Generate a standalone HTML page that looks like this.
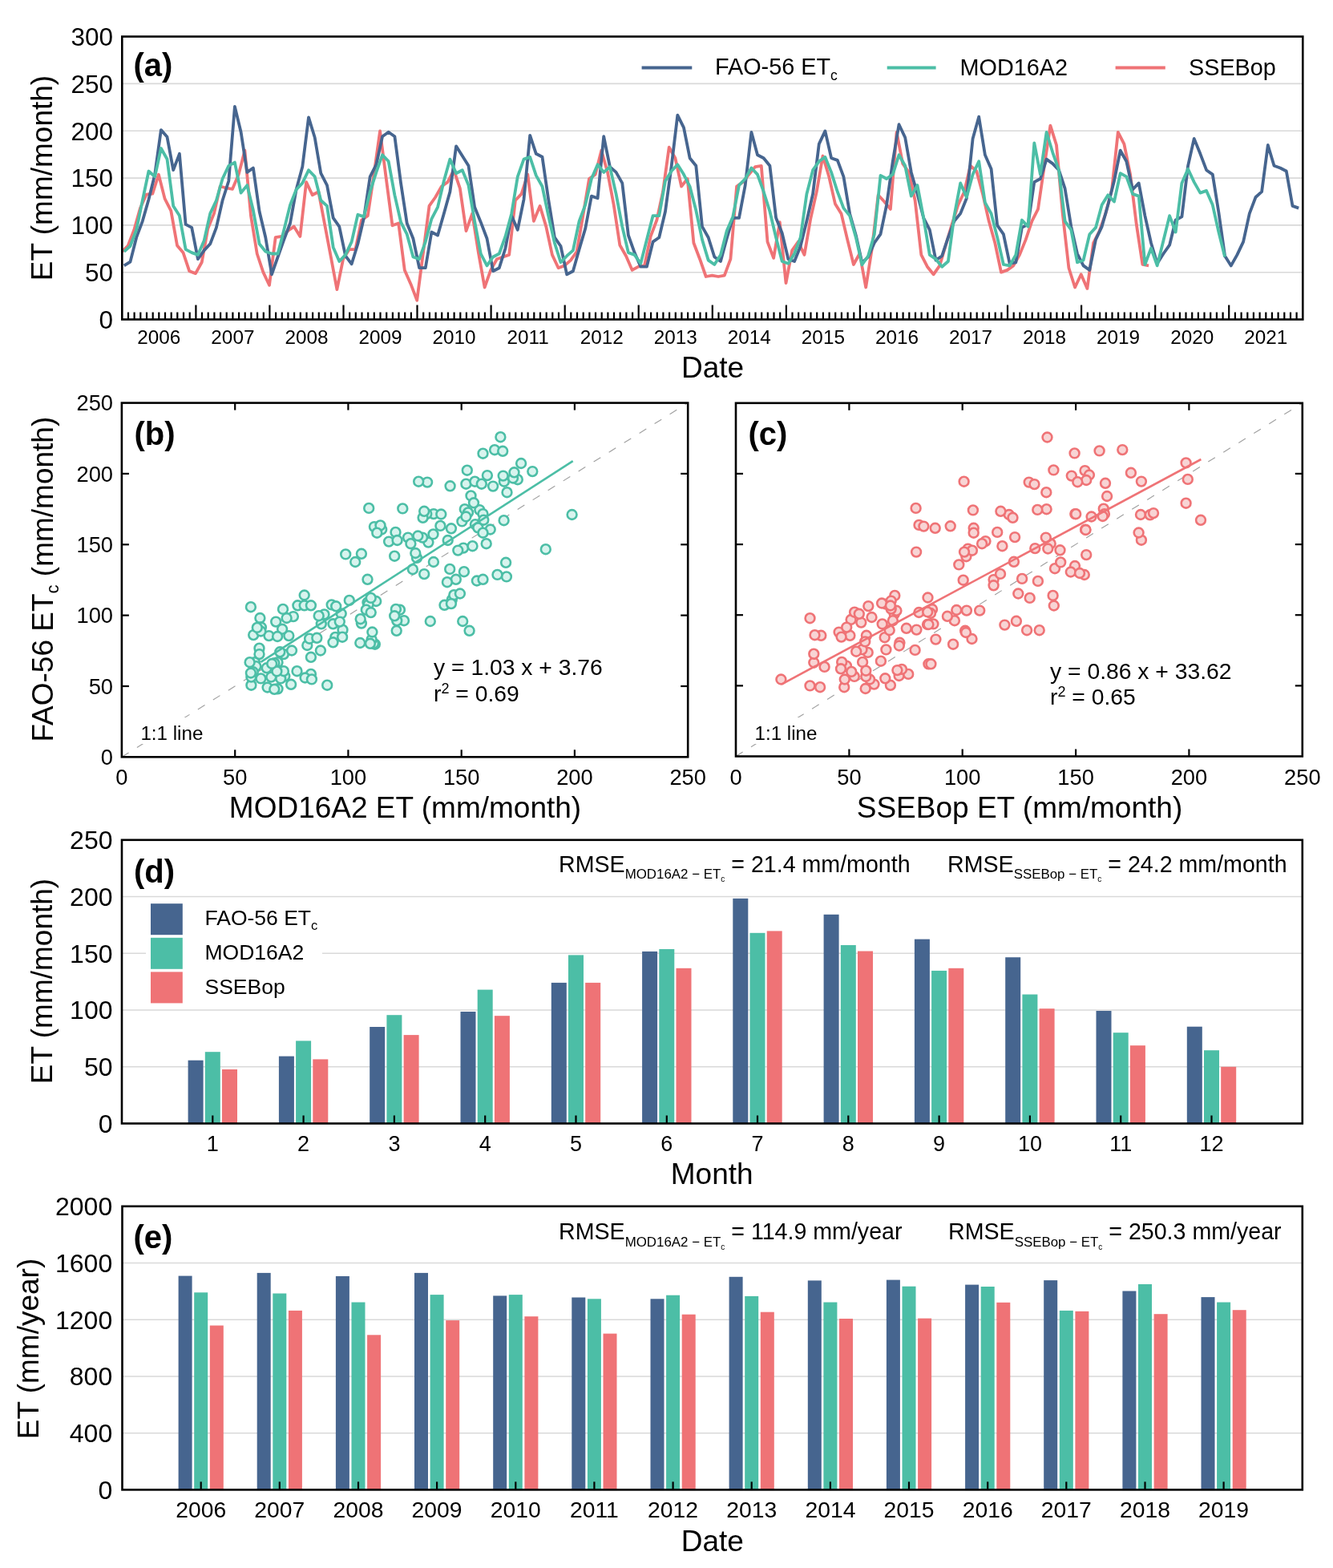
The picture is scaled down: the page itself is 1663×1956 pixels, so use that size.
<!DOCTYPE html><html><head><meta charset="utf-8"><style>html,body{margin:0;padding:0;background:#fff;}svg{display:block;}</style></head><body>
<svg width="1663" height="1956" viewBox="0 0 1663 1956" font-family="'Liberation Sans', Arial, sans-serif" fill="#000">
<rect width="1663" height="1956" fill="#fff"/>
<line x1="152.3" y1="339.7" x2="1625.3" y2="339.7" stroke="#d9d9d9" stroke-width="1.6" />
<line x1="152.3" y1="280.9" x2="1625.3" y2="280.9" stroke="#d9d9d9" stroke-width="1.6" />
<line x1="152.3" y1="222.1" x2="1625.3" y2="222.1" stroke="#d9d9d9" stroke-width="1.6" />
<line x1="152.3" y1="163.2" x2="1625.3" y2="163.2" stroke="#d9d9d9" stroke-width="1.6" />
<line x1="152.3" y1="104.4" x2="1625.3" y2="104.4" stroke="#d9d9d9" stroke-width="1.6" />
<polyline points="152.3,313.8 159.6,306.7 167.3,286.7 174.9,259.7 182.6,242.6 190.3,241.7 197.9,217.7 205.6,247.9 213.3,262.9 221,306.2 228.6,315.3 236.3,338.3 244,341.1 251.7,327.3 259.3,285.3 267,266.4 274.7,232.5 282.3,234.5 290,235.8 297.7,217.6 305.4,187.7 313,269.1 320.7,316.5 328.4,339.6 336,355.8 343.7,296.2 351.4,294.9 359.1,288 366.7,282.6 374.4,294.9 382.1,227.1 389.7,243.3 397.4,239.2 405.1,279.9 412.8,320.5 420.4,361.2 428.1,323.2 435.8,311.1 443.4,311.1 451.1,274.5 458.8,269.1 466.5,217.6 474.1,163.4 481.8,223 489.5,281.3 497.2,278.5 504.8,336.9 512.5,354.4 520.2,374.7 527.8,316.5 535.5,256.9 543.2,246 550.9,232.5 558.5,227.1 566.2,212.2 573.9,235.2 581.5,288 589.2,266.4 596.9,315.1 604.6,358.5 612.2,336.9 619.9,323.2 627.6,320.5 635.2,317.9 642.9,250 650.6,241.9 658.3,217.6 665.9,275.8 673.6,256.9 681.3,282.6 688.9,317.9 696.6,334.2 704.3,331.4 712,324.6 719.6,313.8 727.3,269.1 735,223 742.7,217.6 750.3,187.7 758,214.9 765.7,255.6 773.3,305.7 781,319.2 788.7,336.9 796.4,332.7 804,331.4 811.7,294.9 819.4,274.5 827,239.2 834.7,183.7 842.4,197.2 850.1,232.5 857.7,223 865.4,303 873.1,323.2 880.7,345 888.4,343.6 896.1,345 903.8,343.6 911.4,323.2 919.1,232.5 926.8,227.1 934.4,217.6 942.1,208.1 949.8,206.8 957.5,301.6 965.1,321.9 972.8,277.2 980.5,353.1 988.2,312.4 995.8,301.6 1003.5,317.9 1011.2,273.1 1018.8,239.2 1026.5,194.5 1034.2,220.3 1041.9,254.2 1049.5,266.4 1057.2,298.9 1064.9,330 1072.5,316.2 1080.2,358.5 1087.9,309.7 1095.6,243.3 1103.2,251.5 1110.9,260.9 1118.6,164.8 1126.2,204.1 1133.9,214.9 1141.6,250 1149.3,317.9 1156.9,332.7 1164.6,342.3 1172.3,331.4 1179.9,305.7 1187.6,279.9 1195.3,255.6 1203,239.2 1210.6,206.8 1218.3,213.5 1226,241.9 1233.7,275.8 1241.3,303 1249,339.6 1256.7,336.9 1264.3,331.4 1272,317.9 1279.7,298.9 1287.4,275.8 1295,260.9 1302.7,208.1 1310.4,156.6 1318,181 1325.7,266.4 1333.4,334.2 1341.1,358.5 1348.7,342.3 1356.4,359.9 1364.1,303 1371.7,288 1379.4,266.4 1387.1,236.5 1394.8,164.8 1402.4,179.6 1410.1,217.6 1417.8,279.9 1425.4,330 1433.1,331.4" fill="none" stroke="#ef7376" stroke-width="3.8" stroke-linejoin="round"/>
<polyline points="154.8,331.4 162.5,326.6 170.2,296.2 177.8,275.8 185.5,248.8 193.2,217.6 200.9,162.1 208.5,170.8 216.2,212.2 223.9,191.8 231.6,279.9 239.2,283.9 246.9,323.2 254.6,312.4 262.2,304.3 269.9,283.9 277.6,250 285.3,225.7 292.9,132.9 300.6,164.8 308.3,214.9 315.9,209.5 323.6,263.7 331.3,296.2 339,342.3 346.6,320.5 354.3,298.9 362,278.5 369.6,236.5 377.3,208.1 385,146.4 392.7,171.5 400.3,216.2 408,231.1 415.7,271.8 423.3,282.6 431,319.2 438.7,329.3 446.4,304.3 454,271.8 461.7,220.3 469.4,205.3 477.1,170.2 484.7,164.8 492.4,170.2 500.1,228.4 507.7,278.5 515.4,297.5 523.1,334.2 530.8,334.2 538.4,289.5 546.1,293.5 553.8,266.4 561.4,239.2 569.1,182.3 576.8,194.5 584.5,206.8 592.1,258.3 599.8,277.2 607.5,297.5 615.1,338.2 622.8,334.2 630.5,309.7 638.2,269.1 645.8,286.7 653.5,248.8 661.2,168.8 668.8,191.8 676.5,195.8 684.2,248.8 691.9,296.2 699.5,307 707.2,342.3 714.9,338.2 722.6,311.1 730.2,285.3 737.9,244.6 745.6,247.3 753.2,170.2 760.9,208.1 768.6,214.9 776.3,228.4 783.9,293.5 791.6,315.1 799.3,332.7 806.9,332.7 814.6,301.6 822.3,296.2 830,263.7 837.6,208.1 845.3,143.7 853,159.2 860.6,197.2 868.3,206.8 876,282.6 883.7,296.2 891.3,320.5 899,326 906.7,297.6 914.3,271.8 922,271.8 929.7,231.1 937.4,164.8 945,193.2 952.7,197.2 960.4,206.8 968.1,271.8 975.7,290.7 983.4,323.2 991.1,326 998.7,307 1006.4,275.8 1014.1,241.9 1021.8,179.6 1029.4,163.4 1037.1,197.2 1044.8,199.9 1052.4,220.3 1060.1,266.4 1067.8,293.5 1075.5,327.9 1083.1,320.5 1090.8,303 1098.5,292.2 1106.1,255.6 1113.8,201.3 1121.5,155.2 1129.2,171.5 1136.8,214.9 1144.5,241.9 1152.2,271.8 1159.8,286.7 1167.5,324.6 1175.2,319.2 1182.9,296.2 1190.5,275.8 1198.2,266.4 1205.9,247.3 1213.6,172.9 1221.2,145.7 1228.9,193.2 1236.6,210.8 1244.2,281.2 1251.9,292.2 1259.6,328.7 1267.3,327.3 1274.9,283.9 1282.6,279.9 1290.3,227.1 1297.9,223 1305.6,198.6 1313.3,204.1 1321,212.2 1328.6,235.2 1336.3,282.6 1344,316.5 1351.6,331.4 1359.3,336.9 1367,298.9 1374.7,282.6 1382.3,255.6 1390,225.7 1397.7,187.7 1405.3,201.3 1413,236.5 1420.7,228.4 1428.4,269.1 1436,303 1443.7,328.7 1451.4,316.5 1459.1,305.7 1466.7,274.5 1474.4,270.4 1482.1,206.8 1489.7,172.9 1497.4,191.8 1505.1,212.2 1512.8,217.6 1520.4,265 1528.1,319.2 1535.8,331.4 1543.4,317.9 1551.1,301.6 1558.8,266.4 1566.5,246 1574.1,239.2 1581.8,181 1589.5,206.8 1597.1,209.5 1604.8,213.5 1612.5,256.9 1620.2,259.6" fill="none" stroke="#46658f" stroke-width="3.8" stroke-linejoin="round"/>
<polyline points="154.8,313.8 162.5,307 170.2,286.7 177.8,250 185.5,213.5 193.2,220.3 200.9,185 208.5,198.5 216.2,256.9 223.9,269.1 231.6,311.1 239.2,315.1 246.9,317.9 254.6,300.3 262.2,266.4 269.9,250 277.6,223 285.3,206.8 292.9,202.6 300.6,240.6 308.3,231.1 315.9,262.3 323.6,304.3 331.3,313.8 339,316.5 346.6,316.5 354.3,286.7 362,255.6 369.6,236.5 377.3,228.4 385,212.2 392.7,220.3 400.3,250 408,256.9 415.7,308.4 423.3,326 431,317.9 438.7,301.6 446.4,267.7 454,270.4 461.7,239.2 469.4,214.9 477.1,193.2 484.7,201.3 492.4,243.3 500.1,277.2 507.7,292.2 515.4,320.5 523.1,323.2 530.8,301.6 538.4,273.1 546.1,258.3 553.8,225.7 561.4,198.6 569.1,216.2 576.8,212.2 584.5,231.1 592.1,275.8 599.8,316.5 607.5,331.4 615.1,320.5 622.8,316.5 630.5,294.9 638.2,266.4 645.8,220.3 653.5,198.6 661.2,195.9 668.8,218.9 676.5,232.5 684.2,269.1 691.9,303 699.5,327.3 707.2,319.2 714.9,312.4 722.6,275.8 730.2,255.6 737.9,223 745.6,205.3 753.2,214.9 760.9,208.1 768.6,241.9 776.3,282.6 783.9,315.1 791.6,317.9 799.3,328.7 806.9,298.9 814.6,269.1 822.3,269.1 830,225.7 837.6,213.5 845.3,205.3 853,217.6 860.6,232.5 868.3,262.3 876,298.9 883.7,324.6 891.3,330 899,317.9 906.7,288 914.3,270.4 922,231.1 929.7,223 937.4,209.5 945,217.6 952.7,239.2 960.4,263.7 968.1,296.2 975.7,326 983.4,328.7 991.1,316.5 998.7,296.2 1006.4,241.9 1014.1,212.2 1021.8,201.3 1029.4,195.9 1037.1,214.9 1044.8,239.2 1052.4,259.6 1060.1,269.1 1067.8,296.2 1075.5,330.3 1083.1,319.2 1090.8,292.2 1098.5,218.9 1106.1,223 1113.8,217.6 1121.5,193.2 1129.2,206.8 1136.8,244.6 1144.5,231.1 1152.2,271.8 1159.8,317.9 1167.5,323.2 1175.2,332.7 1182.9,326 1190.5,269.1 1198.2,228.4 1205.9,246 1213.6,217.6 1221.2,201.3 1228.9,252.8 1236.6,266.4 1244.2,296.2 1251.9,330 1259.6,331.4 1267.3,317.9 1274.9,274.5 1282.6,282.6 1290.3,178.3 1297.9,217.6 1305.6,164.8 1313.3,190.3 1321,212.2 1328.6,275.8 1336.3,286.7 1344,327.3 1351.6,324.6 1359.3,292.2 1367,283.9 1374.7,255.6 1382.3,243.3 1390,251.5 1397.7,216.2 1405.3,220.3 1413,241.9 1420.7,244.6 1428.4,330 1436,309.7 1443.7,331.4 1451.4,300.3 1459.1,269.1 1466.7,289.5 1474.4,228.4 1482.1,210.8 1489.7,227.1 1497.4,240.6 1505.1,237.9 1512.8,255.6 1520.4,289.5 1528.1,320.5" fill="none" stroke="#4cbea6" stroke-width="3.8" stroke-linejoin="round"/>
<line x1="160" y1="398.5" x2="160" y2="389.5" stroke="#000" stroke-width="2.2" />
<line x1="167.6" y1="398.5" x2="167.6" y2="389.5" stroke="#000" stroke-width="2.2" />
<line x1="175.3" y1="398.5" x2="175.3" y2="389.5" stroke="#000" stroke-width="2.2" />
<line x1="183" y1="398.5" x2="183" y2="389.5" stroke="#000" stroke-width="2.2" />
<line x1="190.7" y1="398.5" x2="190.7" y2="389.5" stroke="#000" stroke-width="2.2" />
<line x1="198.3" y1="398.5" x2="198.3" y2="389.5" stroke="#000" stroke-width="2.2" />
<line x1="206" y1="398.5" x2="206" y2="389.5" stroke="#000" stroke-width="2.2" />
<line x1="213.7" y1="398.5" x2="213.7" y2="389.5" stroke="#000" stroke-width="2.2" />
<line x1="221.3" y1="398.5" x2="221.3" y2="389.5" stroke="#000" stroke-width="2.2" />
<line x1="229" y1="398.5" x2="229" y2="389.5" stroke="#000" stroke-width="2.2" />
<line x1="236.7" y1="398.5" x2="236.7" y2="389.5" stroke="#000" stroke-width="2.2" />
<line x1="244.4" y1="398.5" x2="244.4" y2="380.5" stroke="#000" stroke-width="2.2" />
<line x1="252" y1="398.5" x2="252" y2="389.5" stroke="#000" stroke-width="2.2" />
<line x1="259.7" y1="398.5" x2="259.7" y2="389.5" stroke="#000" stroke-width="2.2" />
<line x1="267.4" y1="398.5" x2="267.4" y2="389.5" stroke="#000" stroke-width="2.2" />
<line x1="275.1" y1="398.5" x2="275.1" y2="389.5" stroke="#000" stroke-width="2.2" />
<line x1="282.7" y1="398.5" x2="282.7" y2="389.5" stroke="#000" stroke-width="2.2" />
<line x1="290.4" y1="398.5" x2="290.4" y2="389.5" stroke="#000" stroke-width="2.2" />
<line x1="298.1" y1="398.5" x2="298.1" y2="389.5" stroke="#000" stroke-width="2.2" />
<line x1="305.7" y1="398.5" x2="305.7" y2="389.5" stroke="#000" stroke-width="2.2" />
<line x1="313.4" y1="398.5" x2="313.4" y2="389.5" stroke="#000" stroke-width="2.2" />
<line x1="321.1" y1="398.5" x2="321.1" y2="389.5" stroke="#000" stroke-width="2.2" />
<line x1="328.8" y1="398.5" x2="328.8" y2="389.5" stroke="#000" stroke-width="2.2" />
<line x1="336.4" y1="398.5" x2="336.4" y2="380.5" stroke="#000" stroke-width="2.2" />
<line x1="344.1" y1="398.5" x2="344.1" y2="389.5" stroke="#000" stroke-width="2.2" />
<line x1="351.8" y1="398.5" x2="351.8" y2="389.5" stroke="#000" stroke-width="2.2" />
<line x1="359.4" y1="398.5" x2="359.4" y2="389.5" stroke="#000" stroke-width="2.2" />
<line x1="367.1" y1="398.5" x2="367.1" y2="389.5" stroke="#000" stroke-width="2.2" />
<line x1="374.8" y1="398.5" x2="374.8" y2="389.5" stroke="#000" stroke-width="2.2" />
<line x1="382.5" y1="398.5" x2="382.5" y2="389.5" stroke="#000" stroke-width="2.2" />
<line x1="390.1" y1="398.5" x2="390.1" y2="389.5" stroke="#000" stroke-width="2.2" />
<line x1="397.8" y1="398.5" x2="397.8" y2="389.5" stroke="#000" stroke-width="2.2" />
<line x1="405.5" y1="398.5" x2="405.5" y2="389.5" stroke="#000" stroke-width="2.2" />
<line x1="413.1" y1="398.5" x2="413.1" y2="389.5" stroke="#000" stroke-width="2.2" />
<line x1="420.8" y1="398.5" x2="420.8" y2="389.5" stroke="#000" stroke-width="2.2" />
<line x1="428.5" y1="398.5" x2="428.5" y2="380.5" stroke="#000" stroke-width="2.2" />
<line x1="436.2" y1="398.5" x2="436.2" y2="389.5" stroke="#000" stroke-width="2.2" />
<line x1="443.8" y1="398.5" x2="443.8" y2="389.5" stroke="#000" stroke-width="2.2" />
<line x1="451.5" y1="398.5" x2="451.5" y2="389.5" stroke="#000" stroke-width="2.2" />
<line x1="459.2" y1="398.5" x2="459.2" y2="389.5" stroke="#000" stroke-width="2.2" />
<line x1="466.8" y1="398.5" x2="466.8" y2="389.5" stroke="#000" stroke-width="2.2" />
<line x1="474.5" y1="398.5" x2="474.5" y2="389.5" stroke="#000" stroke-width="2.2" />
<line x1="482.2" y1="398.5" x2="482.2" y2="389.5" stroke="#000" stroke-width="2.2" />
<line x1="489.9" y1="398.5" x2="489.9" y2="389.5" stroke="#000" stroke-width="2.2" />
<line x1="497.5" y1="398.5" x2="497.5" y2="389.5" stroke="#000" stroke-width="2.2" />
<line x1="505.2" y1="398.5" x2="505.2" y2="389.5" stroke="#000" stroke-width="2.2" />
<line x1="512.9" y1="398.5" x2="512.9" y2="389.5" stroke="#000" stroke-width="2.2" />
<line x1="520.5" y1="398.5" x2="520.5" y2="380.5" stroke="#000" stroke-width="2.2" />
<line x1="528.2" y1="398.5" x2="528.2" y2="389.5" stroke="#000" stroke-width="2.2" />
<line x1="535.9" y1="398.5" x2="535.9" y2="389.5" stroke="#000" stroke-width="2.2" />
<line x1="543.6" y1="398.5" x2="543.6" y2="389.5" stroke="#000" stroke-width="2.2" />
<line x1="551.2" y1="398.5" x2="551.2" y2="389.5" stroke="#000" stroke-width="2.2" />
<line x1="558.9" y1="398.5" x2="558.9" y2="389.5" stroke="#000" stroke-width="2.2" />
<line x1="566.6" y1="398.5" x2="566.6" y2="389.5" stroke="#000" stroke-width="2.2" />
<line x1="574.3" y1="398.5" x2="574.3" y2="389.5" stroke="#000" stroke-width="2.2" />
<line x1="581.9" y1="398.5" x2="581.9" y2="389.5" stroke="#000" stroke-width="2.2" />
<line x1="589.6" y1="398.5" x2="589.6" y2="389.5" stroke="#000" stroke-width="2.2" />
<line x1="597.3" y1="398.5" x2="597.3" y2="389.5" stroke="#000" stroke-width="2.2" />
<line x1="604.9" y1="398.5" x2="604.9" y2="389.5" stroke="#000" stroke-width="2.2" />
<line x1="612.6" y1="398.5" x2="612.6" y2="380.5" stroke="#000" stroke-width="2.2" />
<line x1="620.3" y1="398.5" x2="620.3" y2="389.5" stroke="#000" stroke-width="2.2" />
<line x1="628" y1="398.5" x2="628" y2="389.5" stroke="#000" stroke-width="2.2" />
<line x1="635.6" y1="398.5" x2="635.6" y2="389.5" stroke="#000" stroke-width="2.2" />
<line x1="643.3" y1="398.5" x2="643.3" y2="389.5" stroke="#000" stroke-width="2.2" />
<line x1="651" y1="398.5" x2="651" y2="389.5" stroke="#000" stroke-width="2.2" />
<line x1="658.6" y1="398.5" x2="658.6" y2="389.5" stroke="#000" stroke-width="2.2" />
<line x1="666.3" y1="398.5" x2="666.3" y2="389.5" stroke="#000" stroke-width="2.2" />
<line x1="674" y1="398.5" x2="674" y2="389.5" stroke="#000" stroke-width="2.2" />
<line x1="681.7" y1="398.5" x2="681.7" y2="389.5" stroke="#000" stroke-width="2.2" />
<line x1="689.3" y1="398.5" x2="689.3" y2="389.5" stroke="#000" stroke-width="2.2" />
<line x1="697" y1="398.5" x2="697" y2="389.5" stroke="#000" stroke-width="2.2" />
<line x1="704.7" y1="398.5" x2="704.7" y2="380.5" stroke="#000" stroke-width="2.2" />
<line x1="712.3" y1="398.5" x2="712.3" y2="389.5" stroke="#000" stroke-width="2.2" />
<line x1="720" y1="398.5" x2="720" y2="389.5" stroke="#000" stroke-width="2.2" />
<line x1="727.7" y1="398.5" x2="727.7" y2="389.5" stroke="#000" stroke-width="2.2" />
<line x1="735.4" y1="398.5" x2="735.4" y2="389.5" stroke="#000" stroke-width="2.2" />
<line x1="743" y1="398.5" x2="743" y2="389.5" stroke="#000" stroke-width="2.2" />
<line x1="750.7" y1="398.5" x2="750.7" y2="389.5" stroke="#000" stroke-width="2.2" />
<line x1="758.4" y1="398.5" x2="758.4" y2="389.5" stroke="#000" stroke-width="2.2" />
<line x1="766" y1="398.5" x2="766" y2="389.5" stroke="#000" stroke-width="2.2" />
<line x1="773.7" y1="398.5" x2="773.7" y2="389.5" stroke="#000" stroke-width="2.2" />
<line x1="781.4" y1="398.5" x2="781.4" y2="389.5" stroke="#000" stroke-width="2.2" />
<line x1="789.1" y1="398.5" x2="789.1" y2="389.5" stroke="#000" stroke-width="2.2" />
<line x1="796.7" y1="398.5" x2="796.7" y2="380.5" stroke="#000" stroke-width="2.2" />
<line x1="804.4" y1="398.5" x2="804.4" y2="389.5" stroke="#000" stroke-width="2.2" />
<line x1="812.1" y1="398.5" x2="812.1" y2="389.5" stroke="#000" stroke-width="2.2" />
<line x1="819.8" y1="398.5" x2="819.8" y2="389.5" stroke="#000" stroke-width="2.2" />
<line x1="827.4" y1="398.5" x2="827.4" y2="389.5" stroke="#000" stroke-width="2.2" />
<line x1="835.1" y1="398.5" x2="835.1" y2="389.5" stroke="#000" stroke-width="2.2" />
<line x1="842.8" y1="398.5" x2="842.8" y2="389.5" stroke="#000" stroke-width="2.2" />
<line x1="850.4" y1="398.5" x2="850.4" y2="389.5" stroke="#000" stroke-width="2.2" />
<line x1="858.1" y1="398.5" x2="858.1" y2="389.5" stroke="#000" stroke-width="2.2" />
<line x1="865.8" y1="398.5" x2="865.8" y2="389.5" stroke="#000" stroke-width="2.2" />
<line x1="873.5" y1="398.5" x2="873.5" y2="389.5" stroke="#000" stroke-width="2.2" />
<line x1="881.1" y1="398.5" x2="881.1" y2="389.5" stroke="#000" stroke-width="2.2" />
<line x1="888.8" y1="398.5" x2="888.8" y2="380.5" stroke="#000" stroke-width="2.2" />
<line x1="896.5" y1="398.5" x2="896.5" y2="389.5" stroke="#000" stroke-width="2.2" />
<line x1="904.1" y1="398.5" x2="904.1" y2="389.5" stroke="#000" stroke-width="2.2" />
<line x1="911.8" y1="398.5" x2="911.8" y2="389.5" stroke="#000" stroke-width="2.2" />
<line x1="919.5" y1="398.5" x2="919.5" y2="389.5" stroke="#000" stroke-width="2.2" />
<line x1="927.2" y1="398.5" x2="927.2" y2="389.5" stroke="#000" stroke-width="2.2" />
<line x1="934.8" y1="398.5" x2="934.8" y2="389.5" stroke="#000" stroke-width="2.2" />
<line x1="942.5" y1="398.5" x2="942.5" y2="389.5" stroke="#000" stroke-width="2.2" />
<line x1="950.2" y1="398.5" x2="950.2" y2="389.5" stroke="#000" stroke-width="2.2" />
<line x1="957.8" y1="398.5" x2="957.8" y2="389.5" stroke="#000" stroke-width="2.2" />
<line x1="965.5" y1="398.5" x2="965.5" y2="389.5" stroke="#000" stroke-width="2.2" />
<line x1="973.2" y1="398.5" x2="973.2" y2="389.5" stroke="#000" stroke-width="2.2" />
<line x1="980.9" y1="398.5" x2="980.9" y2="380.5" stroke="#000" stroke-width="2.2" />
<line x1="988.5" y1="398.5" x2="988.5" y2="389.5" stroke="#000" stroke-width="2.2" />
<line x1="996.2" y1="398.5" x2="996.2" y2="389.5" stroke="#000" stroke-width="2.2" />
<line x1="1003.9" y1="398.5" x2="1003.9" y2="389.5" stroke="#000" stroke-width="2.2" />
<line x1="1011.5" y1="398.5" x2="1011.5" y2="389.5" stroke="#000" stroke-width="2.2" />
<line x1="1019.2" y1="398.5" x2="1019.2" y2="389.5" stroke="#000" stroke-width="2.2" />
<line x1="1026.9" y1="398.5" x2="1026.9" y2="389.5" stroke="#000" stroke-width="2.2" />
<line x1="1034.6" y1="398.5" x2="1034.6" y2="389.5" stroke="#000" stroke-width="2.2" />
<line x1="1042.2" y1="398.5" x2="1042.2" y2="389.5" stroke="#000" stroke-width="2.2" />
<line x1="1049.9" y1="398.5" x2="1049.9" y2="389.5" stroke="#000" stroke-width="2.2" />
<line x1="1057.6" y1="398.5" x2="1057.6" y2="389.5" stroke="#000" stroke-width="2.2" />
<line x1="1065.3" y1="398.5" x2="1065.3" y2="389.5" stroke="#000" stroke-width="2.2" />
<line x1="1072.9" y1="398.5" x2="1072.9" y2="380.5" stroke="#000" stroke-width="2.2" />
<line x1="1080.6" y1="398.5" x2="1080.6" y2="389.5" stroke="#000" stroke-width="2.2" />
<line x1="1088.3" y1="398.5" x2="1088.3" y2="389.5" stroke="#000" stroke-width="2.2" />
<line x1="1095.9" y1="398.5" x2="1095.9" y2="389.5" stroke="#000" stroke-width="2.2" />
<line x1="1103.6" y1="398.5" x2="1103.6" y2="389.5" stroke="#000" stroke-width="2.2" />
<line x1="1111.3" y1="398.5" x2="1111.3" y2="389.5" stroke="#000" stroke-width="2.2" />
<line x1="1119" y1="398.5" x2="1119" y2="389.5" stroke="#000" stroke-width="2.2" />
<line x1="1126.6" y1="398.5" x2="1126.6" y2="389.5" stroke="#000" stroke-width="2.2" />
<line x1="1134.3" y1="398.5" x2="1134.3" y2="389.5" stroke="#000" stroke-width="2.2" />
<line x1="1142" y1="398.5" x2="1142" y2="389.5" stroke="#000" stroke-width="2.2" />
<line x1="1149.6" y1="398.5" x2="1149.6" y2="389.5" stroke="#000" stroke-width="2.2" />
<line x1="1157.3" y1="398.5" x2="1157.3" y2="389.5" stroke="#000" stroke-width="2.2" />
<line x1="1165" y1="398.5" x2="1165" y2="380.5" stroke="#000" stroke-width="2.2" />
<line x1="1172.7" y1="398.5" x2="1172.7" y2="389.5" stroke="#000" stroke-width="2.2" />
<line x1="1180.3" y1="398.5" x2="1180.3" y2="389.5" stroke="#000" stroke-width="2.2" />
<line x1="1188" y1="398.5" x2="1188" y2="389.5" stroke="#000" stroke-width="2.2" />
<line x1="1195.7" y1="398.5" x2="1195.7" y2="389.5" stroke="#000" stroke-width="2.2" />
<line x1="1203.3" y1="398.5" x2="1203.3" y2="389.5" stroke="#000" stroke-width="2.2" />
<line x1="1211" y1="398.5" x2="1211" y2="389.5" stroke="#000" stroke-width="2.2" />
<line x1="1218.7" y1="398.5" x2="1218.7" y2="389.5" stroke="#000" stroke-width="2.2" />
<line x1="1226.4" y1="398.5" x2="1226.4" y2="389.5" stroke="#000" stroke-width="2.2" />
<line x1="1234" y1="398.5" x2="1234" y2="389.5" stroke="#000" stroke-width="2.2" />
<line x1="1241.7" y1="398.5" x2="1241.7" y2="389.5" stroke="#000" stroke-width="2.2" />
<line x1="1249.4" y1="398.5" x2="1249.4" y2="389.5" stroke="#000" stroke-width="2.2" />
<line x1="1257" y1="398.5" x2="1257" y2="380.5" stroke="#000" stroke-width="2.2" />
<line x1="1264.7" y1="398.5" x2="1264.7" y2="389.5" stroke="#000" stroke-width="2.2" />
<line x1="1272.4" y1="398.5" x2="1272.4" y2="389.5" stroke="#000" stroke-width="2.2" />
<line x1="1280.1" y1="398.5" x2="1280.1" y2="389.5" stroke="#000" stroke-width="2.2" />
<line x1="1287.7" y1="398.5" x2="1287.7" y2="389.5" stroke="#000" stroke-width="2.2" />
<line x1="1295.4" y1="398.5" x2="1295.4" y2="389.5" stroke="#000" stroke-width="2.2" />
<line x1="1303.1" y1="398.5" x2="1303.1" y2="389.5" stroke="#000" stroke-width="2.2" />
<line x1="1310.8" y1="398.5" x2="1310.8" y2="389.5" stroke="#000" stroke-width="2.2" />
<line x1="1318.4" y1="398.5" x2="1318.4" y2="389.5" stroke="#000" stroke-width="2.2" />
<line x1="1326.1" y1="398.5" x2="1326.1" y2="389.5" stroke="#000" stroke-width="2.2" />
<line x1="1333.8" y1="398.5" x2="1333.8" y2="389.5" stroke="#000" stroke-width="2.2" />
<line x1="1341.4" y1="398.5" x2="1341.4" y2="389.5" stroke="#000" stroke-width="2.2" />
<line x1="1349.1" y1="398.5" x2="1349.1" y2="380.5" stroke="#000" stroke-width="2.2" />
<line x1="1356.8" y1="398.5" x2="1356.8" y2="389.5" stroke="#000" stroke-width="2.2" />
<line x1="1364.5" y1="398.5" x2="1364.5" y2="389.5" stroke="#000" stroke-width="2.2" />
<line x1="1372.1" y1="398.5" x2="1372.1" y2="389.5" stroke="#000" stroke-width="2.2" />
<line x1="1379.8" y1="398.5" x2="1379.8" y2="389.5" stroke="#000" stroke-width="2.2" />
<line x1="1387.5" y1="398.5" x2="1387.5" y2="389.5" stroke="#000" stroke-width="2.2" />
<line x1="1395.1" y1="398.5" x2="1395.1" y2="389.5" stroke="#000" stroke-width="2.2" />
<line x1="1402.8" y1="398.5" x2="1402.8" y2="389.5" stroke="#000" stroke-width="2.2" />
<line x1="1410.5" y1="398.5" x2="1410.5" y2="389.5" stroke="#000" stroke-width="2.2" />
<line x1="1418.2" y1="398.5" x2="1418.2" y2="389.5" stroke="#000" stroke-width="2.2" />
<line x1="1425.8" y1="398.5" x2="1425.8" y2="389.5" stroke="#000" stroke-width="2.2" />
<line x1="1433.5" y1="398.5" x2="1433.5" y2="389.5" stroke="#000" stroke-width="2.2" />
<line x1="1441.2" y1="398.5" x2="1441.2" y2="380.5" stroke="#000" stroke-width="2.2" />
<line x1="1448.8" y1="398.5" x2="1448.8" y2="389.5" stroke="#000" stroke-width="2.2" />
<line x1="1456.5" y1="398.5" x2="1456.5" y2="389.5" stroke="#000" stroke-width="2.2" />
<line x1="1464.2" y1="398.5" x2="1464.2" y2="389.5" stroke="#000" stroke-width="2.2" />
<line x1="1471.9" y1="398.5" x2="1471.9" y2="389.5" stroke="#000" stroke-width="2.2" />
<line x1="1479.5" y1="398.5" x2="1479.5" y2="389.5" stroke="#000" stroke-width="2.2" />
<line x1="1487.2" y1="398.5" x2="1487.2" y2="389.5" stroke="#000" stroke-width="2.2" />
<line x1="1494.9" y1="398.5" x2="1494.9" y2="389.5" stroke="#000" stroke-width="2.2" />
<line x1="1502.5" y1="398.5" x2="1502.5" y2="389.5" stroke="#000" stroke-width="2.2" />
<line x1="1510.2" y1="398.5" x2="1510.2" y2="389.5" stroke="#000" stroke-width="2.2" />
<line x1="1517.9" y1="398.5" x2="1517.9" y2="389.5" stroke="#000" stroke-width="2.2" />
<line x1="1525.6" y1="398.5" x2="1525.6" y2="389.5" stroke="#000" stroke-width="2.2" />
<line x1="1533.2" y1="398.5" x2="1533.2" y2="380.5" stroke="#000" stroke-width="2.2" />
<line x1="1540.9" y1="398.5" x2="1540.9" y2="389.5" stroke="#000" stroke-width="2.2" />
<line x1="1548.6" y1="398.5" x2="1548.6" y2="389.5" stroke="#000" stroke-width="2.2" />
<line x1="1556.3" y1="398.5" x2="1556.3" y2="389.5" stroke="#000" stroke-width="2.2" />
<line x1="1563.9" y1="398.5" x2="1563.9" y2="389.5" stroke="#000" stroke-width="2.2" />
<line x1="1571.6" y1="398.5" x2="1571.6" y2="389.5" stroke="#000" stroke-width="2.2" />
<line x1="1579.3" y1="398.5" x2="1579.3" y2="389.5" stroke="#000" stroke-width="2.2" />
<line x1="1586.9" y1="398.5" x2="1586.9" y2="389.5" stroke="#000" stroke-width="2.2" />
<line x1="1594.6" y1="398.5" x2="1594.6" y2="389.5" stroke="#000" stroke-width="2.2" />
<line x1="1602.3" y1="398.5" x2="1602.3" y2="389.5" stroke="#000" stroke-width="2.2" />
<line x1="1610" y1="398.5" x2="1610" y2="389.5" stroke="#000" stroke-width="2.2" />
<line x1="1617.6" y1="398.5" x2="1617.6" y2="389.5" stroke="#000" stroke-width="2.2" />
<rect x="152.3" y="45.6" width="1473" height="352.9" fill="none" stroke="#000" stroke-width="2.6"/>
<text x="141" y="409.8" font-size="31.5" text-anchor="end" >0</text>
<text x="141" y="351" font-size="31.5" text-anchor="end" >50</text>
<text x="141" y="292.2" font-size="31.5" text-anchor="end" >100</text>
<text x="141" y="233.4" font-size="31.5" text-anchor="end" >150</text>
<text x="141" y="174.5" font-size="31.5" text-anchor="end" >200</text>
<text x="141" y="115.7" font-size="31.5" text-anchor="end" >250</text>
<text x="141" y="56.9" font-size="31.5" text-anchor="end" >300</text>
<text x="198.3" y="429.3" font-size="24.3" text-anchor="middle" >2006</text>
<text x="290.4" y="429.3" font-size="24.3" text-anchor="middle" >2007</text>
<text x="382.5" y="429.3" font-size="24.3" text-anchor="middle" >2008</text>
<text x="474.5" y="429.3" font-size="24.3" text-anchor="middle" >2009</text>
<text x="566.6" y="429.3" font-size="24.3" text-anchor="middle" >2010</text>
<text x="658.6" y="429.3" font-size="24.3" text-anchor="middle" >2011</text>
<text x="750.7" y="429.3" font-size="24.3" text-anchor="middle" >2012</text>
<text x="842.8" y="429.3" font-size="24.3" text-anchor="middle" >2013</text>
<text x="934.8" y="429.3" font-size="24.3" text-anchor="middle" >2014</text>
<text x="1026.9" y="429.3" font-size="24.3" text-anchor="middle" >2015</text>
<text x="1119" y="429.3" font-size="24.3" text-anchor="middle" >2016</text>
<text x="1211" y="429.3" font-size="24.3" text-anchor="middle" >2017</text>
<text x="1303.1" y="429.3" font-size="24.3" text-anchor="middle" >2018</text>
<text x="1395.1" y="429.3" font-size="24.3" text-anchor="middle" >2019</text>
<text x="1487.2" y="429.3" font-size="24.3" text-anchor="middle" >2020</text>
<text x="1579.3" y="429.3" font-size="24.3" text-anchor="middle" >2021</text>
<text x="889" y="470.5" font-size="37" text-anchor="middle" >Date</text>
<text x="0" y="0" font-size="37" text-anchor="middle" transform="translate(65,222) rotate(-90)">ET (mm/month)</text>
<text x="166.5" y="95" font-size="40" text-anchor="start" font-weight="bold" >(a)</text>
<line x1="800.6" y1="84.5" x2="863.3" y2="84.5" stroke="#46658f" stroke-width="4" />
<text x="892" y="93" font-size="28.8">FAO-56 ET<tspan font-size="17.5" dy="6.5">c</tspan></text>
<line x1="1106.7" y1="84.5" x2="1167.6" y2="84.5" stroke="#4cbea6" stroke-width="4" />
<text x="1197.5" y="93.5" font-size="28.8" text-anchor="start" >MOD16A2</text>
<line x1="1391.6" y1="84.5" x2="1453.8" y2="84.5" stroke="#ef7376" stroke-width="4" />
<text x="1483" y="93.5" font-size="28.8" text-anchor="start" >SSEBop</text>
<line x1="151.9" y1="944.3" x2="858.2" y2="502.6" stroke="#a0a0a0" stroke-width="1.15" stroke-dasharray="10.2 12.2"/>
<circle cx="355.3" cy="843.6" r="5.9" fill="#d8f4ee" stroke="#4cbea6" stroke-width="2.6"/>
<circle cx="370.5" cy="837.2" r="5.9" fill="#d8f4ee" stroke="#4cbea6" stroke-width="2.6"/>
<circle cx="427.5" cy="785.7" r="5.9" fill="#d8f4ee" stroke="#4cbea6" stroke-width="2.6"/>
<circle cx="498.9" cy="760.7" r="5.9" fill="#d8f4ee" stroke="#4cbea6" stroke-width="2.6"/>
<circle cx="594.9" cy="724.5" r="5.9" fill="#d8f4ee" stroke="#4cbea6" stroke-width="2.6"/>
<circle cx="578.1" cy="683.6" r="5.9" fill="#d8f4ee" stroke="#4cbea6" stroke-width="2.6"/>
<circle cx="664.3" cy="588.1" r="5.9" fill="#d8f4ee" stroke="#4cbea6" stroke-width="2.6"/>
<circle cx="628.9" cy="600.7" r="5.9" fill="#d8f4ee" stroke="#4cbea6" stroke-width="2.6"/>
<circle cx="493.5" cy="663.9" r="5.9" fill="#d8f4ee" stroke="#4cbea6" stroke-width="2.6"/>
<circle cx="460.2" cy="633.9" r="5.9" fill="#d8f4ee" stroke="#4cbea6" stroke-width="2.6"/>
<circle cx="365.9" cy="769.1" r="5.9" fill="#d8f4ee" stroke="#4cbea6" stroke-width="2.6"/>
<circle cx="357.6" cy="771" r="5.9" fill="#d8f4ee" stroke="#4cbea6" stroke-width="2.6"/>
<circle cx="345.4" cy="831.2" r="5.9" fill="#d8f4ee" stroke="#4cbea6" stroke-width="2.6"/>
<circle cx="383.3" cy="805" r="5.9" fill="#d8f4ee" stroke="#4cbea6" stroke-width="2.6"/>
<circle cx="467.8" cy="803.7" r="5.9" fill="#d8f4ee" stroke="#4cbea6" stroke-width="2.6"/>
<circle cx="504" cy="774.2" r="5.9" fill="#d8f4ee" stroke="#4cbea6" stroke-width="2.6"/>
<circle cx="568.8" cy="722.8" r="5.9" fill="#d8f4ee" stroke="#4cbea6" stroke-width="2.6"/>
<circle cx="606.7" cy="678.2" r="5.9" fill="#d8f4ee" stroke="#4cbea6" stroke-width="2.6"/>
<circle cx="624.4" cy="545.2" r="5.9" fill="#d8f4ee" stroke="#4cbea6" stroke-width="2.6"/>
<circle cx="533.1" cy="601.6" r="5.9" fill="#d8f4ee" stroke="#4cbea6" stroke-width="2.6"/>
<circle cx="558.7" cy="674" r="5.9" fill="#d8f4ee" stroke="#4cbea6" stroke-width="2.6"/>
<circle cx="476.2" cy="660.5" r="5.9" fill="#d8f4ee" stroke="#4cbea6" stroke-width="2.6"/>
<circle cx="379.7" cy="742.5" r="5.9" fill="#d8f4ee" stroke="#4cbea6" stroke-width="2.6"/>
<circle cx="360.3" cy="793.1" r="5.9" fill="#d8f4ee" stroke="#4cbea6" stroke-width="2.6"/>
<circle cx="346.5" cy="859.3" r="5.9" fill="#d8f4ee" stroke="#4cbea6" stroke-width="2.6"/>
<circle cx="353.9" cy="816.1" r="5.9" fill="#d8f4ee" stroke="#4cbea6" stroke-width="2.6"/>
<circle cx="418.3" cy="794.9" r="5.9" fill="#d8f4ee" stroke="#4cbea6" stroke-width="2.6"/>
<circle cx="493.9" cy="759.9" r="5.9" fill="#d8f4ee" stroke="#4cbea6" stroke-width="2.6"/>
<circle cx="540.9" cy="701" r="5.9" fill="#d8f4ee" stroke="#4cbea6" stroke-width="2.6"/>
<circle cx="562.9" cy="659.3" r="5.9" fill="#d8f4ee" stroke="#4cbea6" stroke-width="2.6"/>
<circle cx="602.5" cy="565.7" r="5.9" fill="#d8f4ee" stroke="#4cbea6" stroke-width="2.6"/>
<circle cx="581.4" cy="603.7" r="5.9" fill="#d8f4ee" stroke="#4cbea6" stroke-width="2.6"/>
<circle cx="509" cy="670.6" r="5.9" fill="#d8f4ee" stroke="#4cbea6" stroke-width="2.6"/>
<circle cx="492.2" cy="693.7" r="5.9" fill="#d8f4ee" stroke="#4cbea6" stroke-width="2.6"/>
<circle cx="371.4" cy="755.3" r="5.9" fill="#d8f4ee" stroke="#4cbea6" stroke-width="2.6"/>
<circle cx="324.4" cy="771" r="5.9" fill="#d8f4ee" stroke="#4cbea6" stroke-width="2.6"/>
<circle cx="346.5" cy="826.2" r="5.9" fill="#d8f4ee" stroke="#4cbea6" stroke-width="2.6"/>
<circle cx="387.9" cy="840.9" r="5.9" fill="#d8f4ee" stroke="#4cbea6" stroke-width="2.6"/>
<circle cx="466.1" cy="802.8" r="5.9" fill="#d8f4ee" stroke="#4cbea6" stroke-width="2.6"/>
<circle cx="458.5" cy="751.5" r="5.9" fill="#d8f4ee" stroke="#4cbea6" stroke-width="2.6"/>
<circle cx="534.4" cy="676.6" r="5.9" fill="#d8f4ee" stroke="#4cbea6" stroke-width="2.6"/>
<circle cx="592.9" cy="654.2" r="5.9" fill="#d8f4ee" stroke="#4cbea6" stroke-width="2.6"/>
<circle cx="645.8" cy="598.2" r="5.9" fill="#d8f4ee" stroke="#4cbea6" stroke-width="2.6"/>
<circle cx="627.7" cy="593.6" r="5.9" fill="#d8f4ee" stroke="#4cbea6" stroke-width="2.6"/>
<circle cx="522.2" cy="600.7" r="5.9" fill="#d8f4ee" stroke="#4cbea6" stroke-width="2.6"/>
<circle cx="450.9" cy="690.8" r="5.9" fill="#d8f4ee" stroke="#4cbea6" stroke-width="2.6"/>
<circle cx="404.5" cy="766.4" r="5.9" fill="#d8f4ee" stroke="#4cbea6" stroke-width="2.6"/>
<circle cx="335.5" cy="793.1" r="5.9" fill="#d8f4ee" stroke="#4cbea6" stroke-width="2.6"/>
<circle cx="338.3" cy="844.6" r="5.9" fill="#d8f4ee" stroke="#4cbea6" stroke-width="2.6"/>
<circle cx="380.6" cy="845.5" r="5.9" fill="#d8f4ee" stroke="#4cbea6" stroke-width="2.6"/>
<circle cx="450.9" cy="777.6" r="5.9" fill="#d8f4ee" stroke="#4cbea6" stroke-width="2.6"/>
<circle cx="494.7" cy="786.8" r="5.9" fill="#d8f4ee" stroke="#4cbea6" stroke-width="2.6"/>
<circle cx="563.8" cy="748.1" r="5.9" fill="#d8f4ee" stroke="#4cbea6" stroke-width="2.6"/>
<circle cx="631.1" cy="701.8" r="5.9" fill="#d8f4ee" stroke="#4cbea6" stroke-width="2.6"/>
<circle cx="587.5" cy="618.4" r="5.9" fill="#d8f4ee" stroke="#4cbea6" stroke-width="2.6"/>
<circle cx="598.3" cy="636.1" r="5.9" fill="#d8f4ee" stroke="#4cbea6" stroke-width="2.6"/>
<circle cx="549.4" cy="655.9" r="5.9" fill="#d8f4ee" stroke="#4cbea6" stroke-width="2.6"/>
<circle cx="435.8" cy="748.9" r="5.9" fill="#d8f4ee" stroke="#4cbea6" stroke-width="2.6"/>
<circle cx="353" cy="759.9" r="5.9" fill="#d8f4ee" stroke="#4cbea6" stroke-width="2.6"/>
<circle cx="316.2" cy="792.1" r="5.9" fill="#d8f4ee" stroke="#4cbea6" stroke-width="2.6"/>
<circle cx="333.6" cy="857.5" r="5.9" fill="#d8f4ee" stroke="#4cbea6" stroke-width="2.6"/>
<circle cx="350.2" cy="846.4" r="5.9" fill="#d8f4ee" stroke="#4cbea6" stroke-width="2.6"/>
<circle cx="399.9" cy="811.5" r="5.9" fill="#d8f4ee" stroke="#4cbea6" stroke-width="2.6"/>
<circle cx="469.2" cy="750" r="5.9" fill="#d8f4ee" stroke="#4cbea6" stroke-width="2.6"/>
<circle cx="577.2" cy="775" r="5.9" fill="#d8f4ee" stroke="#4cbea6" stroke-width="2.6"/>
<circle cx="631.9" cy="719.4" r="5.9" fill="#d8f4ee" stroke="#4cbea6" stroke-width="2.6"/>
<circle cx="640" cy="596.5" r="5.9" fill="#d8f4ee" stroke="#4cbea6" stroke-width="2.6"/>
<circle cx="579.8" cy="635.2" r="5.9" fill="#d8f4ee" stroke="#4cbea6" stroke-width="2.6"/>
<circle cx="541" cy="641.1" r="5.9" fill="#d8f4ee" stroke="#4cbea6" stroke-width="2.6"/>
<circle cx="458.5" cy="722.8" r="5.9" fill="#d8f4ee" stroke="#4cbea6" stroke-width="2.6"/>
<circle cx="386.1" cy="796.7" r="5.9" fill="#d8f4ee" stroke="#4cbea6" stroke-width="2.6"/>
<circle cx="323.5" cy="808.7" r="5.9" fill="#d8f4ee" stroke="#4cbea6" stroke-width="2.6"/>
<circle cx="342.3" cy="859.8" r="5.9" fill="#d8f4ee" stroke="#4cbea6" stroke-width="2.6"/>
<circle cx="363.1" cy="853.8" r="5.9" fill="#d8f4ee" stroke="#4cbea6" stroke-width="2.6"/>
<circle cx="449.3" cy="802" r="5.9" fill="#d8f4ee" stroke="#4cbea6" stroke-width="2.6"/>
<circle cx="495.2" cy="774.3" r="5.9" fill="#d8f4ee" stroke="#4cbea6" stroke-width="2.6"/>
<circle cx="578.9" cy="713.2" r="5.9" fill="#d8f4ee" stroke="#4cbea6" stroke-width="2.6"/>
<circle cx="620.5" cy="716.9" r="5.9" fill="#d8f4ee" stroke="#4cbea6" stroke-width="2.6"/>
<circle cx="592.4" cy="600.7" r="5.9" fill="#d8f4ee" stroke="#4cbea6" stroke-width="2.6"/>
<circle cx="611.7" cy="660.5" r="5.9" fill="#d8f4ee" stroke="#4cbea6" stroke-width="2.6"/>
<circle cx="527.1" cy="670.6" r="5.9" fill="#d8f4ee" stroke="#4cbea6" stroke-width="2.6"/>
<circle cx="431.2" cy="691.4" r="5.9" fill="#d8f4ee" stroke="#4cbea6" stroke-width="2.6"/>
<circle cx="352.1" cy="784.8" r="5.9" fill="#d8f4ee" stroke="#4cbea6" stroke-width="2.6"/>
<circle cx="349.3" cy="813.3" r="5.9" fill="#d8f4ee" stroke="#4cbea6" stroke-width="2.6"/>
<circle cx="313.4" cy="854.7" r="5.9" fill="#d8f4ee" stroke="#4cbea6" stroke-width="2.6"/>
<circle cx="388.9" cy="847.4" r="5.9" fill="#d8f4ee" stroke="#4cbea6" stroke-width="2.6"/>
<circle cx="463.6" cy="797.8" r="5.9" fill="#d8f4ee" stroke="#4cbea6" stroke-width="2.6"/>
<circle cx="464.4" cy="788.5" r="5.9" fill="#d8f4ee" stroke="#4cbea6" stroke-width="2.6"/>
<circle cx="566.3" cy="742.2" r="5.9" fill="#d8f4ee" stroke="#4cbea6" stroke-width="2.6"/>
<circle cx="596.3" cy="658.3" r="5.9" fill="#d8f4ee" stroke="#4cbea6" stroke-width="2.6"/>
<circle cx="617.1" cy="561.2" r="5.9" fill="#d8f4ee" stroke="#4cbea6" stroke-width="2.6"/>
<circle cx="582.8" cy="586.7" r="5.9" fill="#d8f4ee" stroke="#4cbea6" stroke-width="2.6"/>
<circle cx="550.3" cy="641.5" r="5.9" fill="#d8f4ee" stroke="#4cbea6" stroke-width="2.6"/>
<circle cx="466.9" cy="657.1" r="5.9" fill="#d8f4ee" stroke="#4cbea6" stroke-width="2.6"/>
<circle cx="379.7" cy="755.3" r="5.9" fill="#d8f4ee" stroke="#4cbea6" stroke-width="2.6"/>
<circle cx="346.1" cy="794" r="5.9" fill="#d8f4ee" stroke="#4cbea6" stroke-width="2.6"/>
<circle cx="318" cy="826.2" r="5.9" fill="#d8f4ee" stroke="#4cbea6" stroke-width="2.6"/>
<circle cx="342.9" cy="833.6" r="5.9" fill="#d8f4ee" stroke="#4cbea6" stroke-width="2.6"/>
<circle cx="415.5" cy="778.3" r="5.9" fill="#d8f4ee" stroke="#4cbea6" stroke-width="2.6"/>
<circle cx="459.6" cy="754" r="5.9" fill="#d8f4ee" stroke="#4cbea6" stroke-width="2.6"/>
<circle cx="554.5" cy="754.8" r="5.9" fill="#d8f4ee" stroke="#4cbea6" stroke-width="2.6"/>
<circle cx="571.3" cy="686.6" r="5.9" fill="#d8f4ee" stroke="#4cbea6" stroke-width="2.6"/>
<circle cx="607.9" cy="593.1" r="5.9" fill="#d8f4ee" stroke="#4cbea6" stroke-width="2.6"/>
<circle cx="584" cy="639.4" r="5.9" fill="#d8f4ee" stroke="#4cbea6" stroke-width="2.6"/>
<circle cx="532.3" cy="641.1" r="5.9" fill="#d8f4ee" stroke="#4cbea6" stroke-width="2.6"/>
<circle cx="474.5" cy="655.4" r="5.9" fill="#d8f4ee" stroke="#4cbea6" stroke-width="2.6"/>
<circle cx="387.9" cy="755.3" r="5.9" fill="#d8f4ee" stroke="#4cbea6" stroke-width="2.6"/>
<circle cx="325.9" cy="782.5" r="5.9" fill="#d8f4ee" stroke="#4cbea6" stroke-width="2.6"/>
<circle cx="319.4" cy="831.2" r="5.9" fill="#d8f4ee" stroke="#4cbea6" stroke-width="2.6"/>
<circle cx="353.9" cy="837.2" r="5.9" fill="#d8f4ee" stroke="#4cbea6" stroke-width="2.6"/>
<circle cx="395.3" cy="795.8" r="5.9" fill="#d8f4ee" stroke="#4cbea6" stroke-width="2.6"/>
<circle cx="536.8" cy="775" r="5.9" fill="#d8f4ee" stroke="#4cbea6" stroke-width="2.6"/>
<circle cx="602.5" cy="722.8" r="5.9" fill="#d8f4ee" stroke="#4cbea6" stroke-width="2.6"/>
<circle cx="632.5" cy="614.2" r="5.9" fill="#d8f4ee" stroke="#4cbea6" stroke-width="2.6"/>
<circle cx="641.5" cy="589.3" r="5.9" fill="#d8f4ee" stroke="#4cbea6" stroke-width="2.6"/>
<circle cx="602.5" cy="641.1" r="5.9" fill="#d8f4ee" stroke="#4cbea6" stroke-width="2.6"/>
<circle cx="527.6" cy="645.8" r="5.9" fill="#d8f4ee" stroke="#4cbea6" stroke-width="2.6"/>
<circle cx="485.1" cy="675.6" r="5.9" fill="#d8f4ee" stroke="#4cbea6" stroke-width="2.6"/>
<circle cx="462.7" cy="745.9" r="5.9" fill="#d8f4ee" stroke="#4cbea6" stroke-width="2.6"/>
<circle cx="400.8" cy="778.3" r="5.9" fill="#d8f4ee" stroke="#4cbea6" stroke-width="2.6"/>
<circle cx="315.8" cy="838.3" r="5.9" fill="#d8f4ee" stroke="#4cbea6" stroke-width="2.6"/>
<circle cx="342.3" cy="827.2" r="5.9" fill="#d8f4ee" stroke="#4cbea6" stroke-width="2.6"/>
<circle cx="415.5" cy="801.3" r="5.9" fill="#d8f4ee" stroke="#4cbea6" stroke-width="2.6"/>
<circle cx="585.6" cy="786.8" r="5.9" fill="#d8f4ee" stroke="#4cbea6" stroke-width="2.6"/>
<circle cx="573.9" cy="740.5" r="5.9" fill="#d8f4ee" stroke="#4cbea6" stroke-width="2.6"/>
<circle cx="576.4" cy="650.4" r="5.9" fill="#d8f4ee" stroke="#4cbea6" stroke-width="2.6"/>
<circle cx="650.1" cy="578" r="5.9" fill="#d8f4ee" stroke="#4cbea6" stroke-width="2.6"/>
<circle cx="615.1" cy="606.6" r="5.9" fill="#d8f4ee" stroke="#4cbea6" stroke-width="2.6"/>
<circle cx="521.4" cy="668.5" r="5.9" fill="#d8f4ee" stroke="#4cbea6" stroke-width="2.6"/>
<circle cx="561.2" cy="709.9" r="5.9" fill="#d8f4ee" stroke="#4cbea6" stroke-width="2.6"/>
<circle cx="456.8" cy="760.7" r="5.9" fill="#d8f4ee" stroke="#4cbea6" stroke-width="2.6"/>
<circle cx="344.2" cy="775.6" r="5.9" fill="#d8f4ee" stroke="#4cbea6" stroke-width="2.6"/>
<circle cx="332.7" cy="833.3" r="5.9" fill="#d8f4ee" stroke="#4cbea6" stroke-width="2.6"/>
<circle cx="311.6" cy="826.2" r="5.9" fill="#d8f4ee" stroke="#4cbea6" stroke-width="2.6"/>
<circle cx="325.4" cy="787.5" r="5.9" fill="#d8f4ee" stroke="#4cbea6" stroke-width="2.6"/>
<circle cx="462.7" cy="764.1" r="5.9" fill="#d8f4ee" stroke="#4cbea6" stroke-width="2.6"/>
<circle cx="557.9" cy="726.2" r="5.9" fill="#d8f4ee" stroke="#4cbea6" stroke-width="2.6"/>
<circle cx="514.9" cy="710.2" r="5.9" fill="#d8f4ee" stroke="#4cbea6" stroke-width="2.6"/>
<circle cx="600.8" cy="603.7" r="5.9" fill="#d8f4ee" stroke="#4cbea6" stroke-width="2.6"/>
<circle cx="627.2" cy="562.8" r="5.9" fill="#d8f4ee" stroke="#4cbea6" stroke-width="2.6"/>
<circle cx="502.3" cy="634.4" r="5.9" fill="#d8f4ee" stroke="#4cbea6" stroke-width="2.6"/>
<circle cx="470.3" cy="664.7" r="5.9" fill="#d8f4ee" stroke="#4cbea6" stroke-width="2.6"/>
<circle cx="397.7" cy="768.2" r="5.9" fill="#d8f4ee" stroke="#4cbea6" stroke-width="2.6"/>
<circle cx="320.8" cy="782.9" r="5.9" fill="#d8f4ee" stroke="#4cbea6" stroke-width="2.6"/>
<circle cx="313.4" cy="844.6" r="5.9" fill="#d8f4ee" stroke="#4cbea6" stroke-width="2.6"/>
<circle cx="345.4" cy="837.4" r="5.9" fill="#d8f4ee" stroke="#4cbea6" stroke-width="2.6"/>
<circle cx="449.7" cy="772.2" r="5.9" fill="#d8f4ee" stroke="#4cbea6" stroke-width="2.6"/>
<circle cx="425.7" cy="765.5" r="5.9" fill="#d8f4ee" stroke="#4cbea6" stroke-width="2.6"/>
<circle cx="680.8" cy="685.2" r="5.9" fill="#d8f4ee" stroke="#4cbea6" stroke-width="2.6"/>
<circle cx="589.5" cy="681.2" r="5.9" fill="#d8f4ee" stroke="#4cbea6" stroke-width="2.6"/>
<circle cx="713.6" cy="642" r="5.9" fill="#d8f4ee" stroke="#4cbea6" stroke-width="2.6"/>
<circle cx="628.6" cy="649.2" r="5.9" fill="#d8f4ee" stroke="#4cbea6" stroke-width="2.6"/>
<circle cx="602.5" cy="664.7" r="5.9" fill="#d8f4ee" stroke="#4cbea6" stroke-width="2.6"/>
<circle cx="443.2" cy="701" r="5.9" fill="#d8f4ee" stroke="#4cbea6" stroke-width="2.6"/>
<circle cx="423.8" cy="775.6" r="5.9" fill="#d8f4ee" stroke="#4cbea6" stroke-width="2.6"/>
<circle cx="323.5" cy="816.1" r="5.9" fill="#d8f4ee" stroke="#4cbea6" stroke-width="2.6"/>
<circle cx="325.4" cy="846.4" r="5.9" fill="#d8f4ee" stroke="#4cbea6" stroke-width="2.6"/>
<circle cx="408.2" cy="854.7" r="5.9" fill="#d8f4ee" stroke="#4cbea6" stroke-width="2.6"/>
<circle cx="427.1" cy="794.7" r="5.9" fill="#d8f4ee" stroke="#4cbea6" stroke-width="2.6"/>
<circle cx="492.2" cy="768.3" r="5.9" fill="#d8f4ee" stroke="#4cbea6" stroke-width="2.6"/>
<circle cx="529.2" cy="716.1" r="5.9" fill="#d8f4ee" stroke="#4cbea6" stroke-width="2.6"/>
<circle cx="512.4" cy="678.2" r="5.9" fill="#d8f4ee" stroke="#4cbea6" stroke-width="2.6"/>
<circle cx="591" cy="627.3" r="5.9" fill="#d8f4ee" stroke="#4cbea6" stroke-width="2.6"/>
<circle cx="581.4" cy="644.5" r="5.9" fill="#d8f4ee" stroke="#4cbea6" stroke-width="2.6"/>
<circle cx="520" cy="695.9" r="5.9" fill="#d8f4ee" stroke="#4cbea6" stroke-width="2.6"/>
<circle cx="518.3" cy="690" r="5.9" fill="#d8f4ee" stroke="#4cbea6" stroke-width="2.6"/>
<circle cx="312.9" cy="757.2" r="5.9" fill="#d8f4ee" stroke="#4cbea6" stroke-width="2.6"/>
<circle cx="364" cy="811.5" r="5.9" fill="#d8f4ee" stroke="#4cbea6" stroke-width="2.6"/>
<circle cx="312.9" cy="839.5" r="5.9" fill="#d8f4ee" stroke="#4cbea6" stroke-width="2.6"/>
<circle cx="387.9" cy="819.8" r="5.9" fill="#d8f4ee" stroke="#4cbea6" stroke-width="2.6"/>
<circle cx="461.9" cy="802.8" r="5.9" fill="#d8f4ee" stroke="#4cbea6" stroke-width="2.6"/>
<circle cx="413.7" cy="754.4" r="5.9" fill="#d8f4ee" stroke="#4cbea6" stroke-width="2.6"/>
<circle cx="562.9" cy="753.1" r="5.9" fill="#d8f4ee" stroke="#4cbea6" stroke-width="2.6"/>
<circle cx="603.3" cy="648.7" r="5.9" fill="#d8f4ee" stroke="#4cbea6" stroke-width="2.6"/>
<circle cx="561.6" cy="606.3" r="5.9" fill="#d8f4ee" stroke="#4cbea6" stroke-width="2.6"/>
<circle cx="529.2" cy="637.8" r="5.9" fill="#d8f4ee" stroke="#4cbea6" stroke-width="2.6"/>
<circle cx="540.5" cy="666.4" r="5.9" fill="#d8f4ee" stroke="#4cbea6" stroke-width="2.6"/>
<circle cx="495.6" cy="674" r="5.9" fill="#d8f4ee" stroke="#4cbea6" stroke-width="2.6"/>
<circle cx="419.2" cy="756.3" r="5.9" fill="#d8f4ee" stroke="#4cbea6" stroke-width="2.6"/>
<circle cx="339.2" cy="828" r="5.9" fill="#d8f4ee" stroke="#4cbea6" stroke-width="2.6"/>
<line x1="325.4" y1="825.9" x2="714.7" y2="575.2" stroke="#4cbea6" stroke-width="2.6" />
<line x1="293.2" y1="944.3" x2="293.2" y2="935.3" stroke="#000" stroke-width="2.2" />
<line x1="293.2" y1="502.6" x2="293.2" y2="511.6" stroke="#000" stroke-width="2.2" />
<line x1="151.9" y1="856" x2="160.9" y2="856" stroke="#000" stroke-width="2.2" />
<line x1="858.2" y1="856" x2="849.2" y2="856" stroke="#000" stroke-width="2.2" />
<line x1="434.4" y1="944.3" x2="434.4" y2="935.3" stroke="#000" stroke-width="2.2" />
<line x1="434.4" y1="502.6" x2="434.4" y2="511.6" stroke="#000" stroke-width="2.2" />
<line x1="151.9" y1="767.6" x2="160.9" y2="767.6" stroke="#000" stroke-width="2.2" />
<line x1="858.2" y1="767.6" x2="849.2" y2="767.6" stroke="#000" stroke-width="2.2" />
<line x1="575.7" y1="944.3" x2="575.7" y2="935.3" stroke="#000" stroke-width="2.2" />
<line x1="575.7" y1="502.6" x2="575.7" y2="511.6" stroke="#000" stroke-width="2.2" />
<line x1="151.9" y1="679.3" x2="160.9" y2="679.3" stroke="#000" stroke-width="2.2" />
<line x1="858.2" y1="679.3" x2="849.2" y2="679.3" stroke="#000" stroke-width="2.2" />
<line x1="716.9" y1="944.3" x2="716.9" y2="935.3" stroke="#000" stroke-width="2.2" />
<line x1="716.9" y1="502.6" x2="716.9" y2="511.6" stroke="#000" stroke-width="2.2" />
<line x1="151.9" y1="590.9" x2="160.9" y2="590.9" stroke="#000" stroke-width="2.2" />
<line x1="858.2" y1="590.9" x2="849.2" y2="590.9" stroke="#000" stroke-width="2.2" />
<rect x="151.9" y="502.6" width="706.3" height="441.7" fill="none" stroke="#000" stroke-width="2.6"/>
<text x="151.9" y="979" font-size="27.3" text-anchor="middle" >0</text>
<text x="141" y="954.1" font-size="27.3" text-anchor="end" >0</text>
<text x="293.2" y="979" font-size="27.3" text-anchor="middle" >50</text>
<text x="141" y="865.8" font-size="27.3" text-anchor="end" >50</text>
<text x="434.4" y="979" font-size="27.3" text-anchor="middle" >100</text>
<text x="141" y="777.4" font-size="27.3" text-anchor="end" >100</text>
<text x="575.7" y="979" font-size="27.3" text-anchor="middle" >150</text>
<text x="141" y="689.1" font-size="27.3" text-anchor="end" >150</text>
<text x="716.9" y="979" font-size="27.3" text-anchor="middle" >200</text>
<text x="141" y="600.7" font-size="27.3" text-anchor="end" >200</text>
<text x="858.2" y="979" font-size="27.3" text-anchor="middle" >250</text>
<text x="141" y="512.4" font-size="27.3" text-anchor="end" >250</text>
<text x="505.5" y="1020.3" font-size="37" text-anchor="middle" >MOD16A2 ET (mm/month)</text>
<text x="167.5" y="555" font-size="40" text-anchor="start" font-weight="bold" >(b)</text>
<rect x="175.9" y="895" width="80" height="33" fill="#fff"/>
<text x="175.4" y="922.5" font-size="24.2" text-anchor="start" >1:1 line</text>
<text x="541" y="842.2" font-size="28.3" text-anchor="start" >y = 1.03 x + 3.76</text>
<text x="541" y="874.7" font-size="28.3">r<tspan font-size="18" dy="-10">2</tspan><tspan dy="10"> = 0.69</tspan></text>
<text x="0" y="0" font-size="37" transform="translate(66,722.6) rotate(-90)" text-anchor="middle">FAO-56 ET<tspan font-size="22" dy="7">c</tspan><tspan dy="-7"> (mm/month)</tspan></text>
<line x1="918" y1="943.5" x2="1624.8" y2="502.8" stroke="#a0a0a0" stroke-width="1.15" stroke-dasharray="10.2 12.2"/>
<circle cx="1121.6" cy="843" r="5.9" fill="#f8d4d4" stroke="#ef7376" stroke-width="2.6"/>
<circle cx="1158.4" cy="828.3" r="5.9" fill="#f8d4d4" stroke="#ef7376" stroke-width="2.6"/>
<circle cx="1190.9" cy="774.2" r="5.9" fill="#f8d4d4" stroke="#ef7376" stroke-width="2.6"/>
<circle cx="1163" cy="760" r="5.9" fill="#f8d4d4" stroke="#ef7376" stroke-width="2.6"/>
<circle cx="1341" cy="706" r="5.9" fill="#f8d4d4" stroke="#ef7376" stroke-width="2.6"/>
<circle cx="1291.3" cy="684.1" r="5.9" fill="#f8d4d4" stroke="#ef7376" stroke-width="2.6"/>
<circle cx="1353.5" cy="587.1" r="5.9" fill="#f8d4d4" stroke="#ef7376" stroke-width="2.6"/>
<circle cx="1283.7" cy="601.6" r="5.9" fill="#f8d4d4" stroke="#ef7376" stroke-width="2.6"/>
<circle cx="1244.2" cy="663.9" r="5.9" fill="#f8d4d4" stroke="#ef7376" stroke-width="2.6"/>
<circle cx="1142.6" cy="633.9" r="5.9" fill="#f8d4d4" stroke="#ef7376" stroke-width="2.6"/>
<circle cx="1115.7" cy="765.8" r="5.9" fill="#f8d4d4" stroke="#ef7376" stroke-width="2.6"/>
<circle cx="1061.6" cy="773" r="5.9" fill="#f8d4d4" stroke="#ef7376" stroke-width="2.6"/>
<circle cx="1056" cy="830.7" r="5.9" fill="#f8d4d4" stroke="#ef7376" stroke-width="2.6"/>
<circle cx="1082.7" cy="813.9" r="5.9" fill="#f8d4d4" stroke="#ef7376" stroke-width="2.6"/>
<circle cx="1189.1" cy="803.7" r="5.9" fill="#f8d4d4" stroke="#ef7376" stroke-width="2.6"/>
<circle cx="1161" cy="765" r="5.9" fill="#f8d4d4" stroke="#ef7376" stroke-width="2.6"/>
<circle cx="1316" cy="709.2" r="5.9" fill="#f8d4d4" stroke="#ef7376" stroke-width="2.6"/>
<circle cx="1310.7" cy="678.2" r="5.9" fill="#f8d4d4" stroke="#ef7376" stroke-width="2.6"/>
<circle cx="1306.5" cy="545.5" r="5.9" fill="#f8d4d4" stroke="#ef7376" stroke-width="2.6"/>
<circle cx="1358.9" cy="592.5" r="5.9" fill="#f8d4d4" stroke="#ef7376" stroke-width="2.6"/>
<circle cx="1423.9" cy="673.7" r="5.9" fill="#f8d4d4" stroke="#ef7376" stroke-width="2.6"/>
<circle cx="1214.7" cy="658.8" r="5.9" fill="#f8d4d4" stroke="#ef7376" stroke-width="2.6"/>
<circle cx="1116.3" cy="742.9" r="5.9" fill="#f8d4d4" stroke="#ef7376" stroke-width="2.6"/>
<circle cx="1060.4" cy="792.8" r="5.9" fill="#f8d4d4" stroke="#ef7376" stroke-width="2.6"/>
<circle cx="1023.1" cy="857.2" r="5.9" fill="#f8d4d4" stroke="#ef7376" stroke-width="2.6"/>
<circle cx="1161.4" cy="828.3" r="5.9" fill="#f8d4d4" stroke="#ef7376" stroke-width="2.6"/>
<circle cx="1164.4" cy="778.4" r="5.9" fill="#f8d4d4" stroke="#ef7376" stroke-width="2.6"/>
<circle cx="1193.3" cy="761" r="5.9" fill="#f8d4d4" stroke="#ef7376" stroke-width="2.6"/>
<circle cx="1196.3" cy="704.4" r="5.9" fill="#f8d4d4" stroke="#ef7376" stroke-width="2.6"/>
<circle cx="1166.7" cy="658.8" r="5.9" fill="#f8d4d4" stroke="#ef7376" stroke-width="2.6"/>
<circle cx="1340.6" cy="565.4" r="5.9" fill="#f8d4d4" stroke="#ef7376" stroke-width="2.6"/>
<circle cx="1290.5" cy="604.1" r="5.9" fill="#f8d4d4" stroke="#ef7376" stroke-width="2.6"/>
<circle cx="1304.8" cy="670.6" r="5.9" fill="#f8d4d4" stroke="#ef7376" stroke-width="2.6"/>
<circle cx="1205.4" cy="694.2" r="5.9" fill="#f8d4d4" stroke="#ef7376" stroke-width="2.6"/>
<circle cx="1105.4" cy="753.6" r="5.9" fill="#f8d4d4" stroke="#ef7376" stroke-width="2.6"/>
<circle cx="1010.5" cy="771.2" r="5.9" fill="#f8d4d4" stroke="#ef7376" stroke-width="2.6"/>
<circle cx="1098.9" cy="824.7" r="5.9" fill="#f8d4d4" stroke="#ef7376" stroke-width="2.6"/>
<circle cx="1133.2" cy="840.9" r="5.9" fill="#f8d4d4" stroke="#ef7376" stroke-width="2.6"/>
<circle cx="1122.4" cy="801.8" r="5.9" fill="#f8d4d4" stroke="#ef7376" stroke-width="2.6"/>
<circle cx="1222.2" cy="761.6" r="5.9" fill="#f8d4d4" stroke="#ef7376" stroke-width="2.6"/>
<circle cx="1229.5" cy="675.1" r="5.9" fill="#f8d4d4" stroke="#ef7376" stroke-width="2.6"/>
<circle cx="1361.6" cy="644.5" r="5.9" fill="#f8d4d4" stroke="#ef7376" stroke-width="2.6"/>
<circle cx="1481.8" cy="597.9" r="5.9" fill="#f8d4d4" stroke="#ef7376" stroke-width="2.6"/>
<circle cx="1336.8" cy="593.6" r="5.9" fill="#f8d4d4" stroke="#ef7376" stroke-width="2.6"/>
<circle cx="1202.6" cy="600.7" r="5.9" fill="#f8d4d4" stroke="#ef7376" stroke-width="2.6"/>
<circle cx="1207.6" cy="684.6" r="5.9" fill="#f8d4d4" stroke="#ef7376" stroke-width="2.6"/>
<circle cx="1066.1" cy="763.7" r="5.9" fill="#f8d4d4" stroke="#ef7376" stroke-width="2.6"/>
<circle cx="1024.3" cy="792.8" r="5.9" fill="#f8d4d4" stroke="#ef7376" stroke-width="2.6"/>
<circle cx="974.4" cy="847.5" r="5.9" fill="#f8d4d4" stroke="#ef7376" stroke-width="2.6"/>
<circle cx="1110.9" cy="854.8" r="5.9" fill="#f8d4d4" stroke="#ef7376" stroke-width="2.6"/>
<circle cx="1253.4" cy="779.6" r="5.9" fill="#f8d4d4" stroke="#ef7376" stroke-width="2.6"/>
<circle cx="1281.1" cy="786.2" r="5.9" fill="#f8d4d4" stroke="#ef7376" stroke-width="2.6"/>
<circle cx="1313.6" cy="742.9" r="5.9" fill="#f8d4d4" stroke="#ef7376" stroke-width="2.6"/>
<circle cx="1323.2" cy="701.4" r="5.9" fill="#f8d4d4" stroke="#ef7376" stroke-width="2.6"/>
<circle cx="1381.1" cy="619" r="5.9" fill="#f8d4d4" stroke="#ef7376" stroke-width="2.6"/>
<circle cx="1305.6" cy="635.2" r="5.9" fill="#f8d4d4" stroke="#ef7376" stroke-width="2.6"/>
<circle cx="1185.7" cy="656.3" r="5.9" fill="#f8d4d4" stroke="#ef7376" stroke-width="2.6"/>
<circle cx="1239.6" cy="723.1" r="5.9" fill="#f8d4d4" stroke="#ef7376" stroke-width="2.6"/>
<circle cx="1118.4" cy="761.8" r="5.9" fill="#f8d4d4" stroke="#ef7376" stroke-width="2.6"/>
<circle cx="1016.5" cy="792.2" r="5.9" fill="#f8d4d4" stroke="#ef7376" stroke-width="2.6"/>
<circle cx="1065.8" cy="843.9" r="5.9" fill="#f8d4d4" stroke="#ef7376" stroke-width="2.6"/>
<circle cx="1104.3" cy="846.3" r="5.9" fill="#f8d4d4" stroke="#ef7376" stroke-width="2.6"/>
<circle cx="1105.4" cy="810.4" r="5.9" fill="#f8d4d4" stroke="#ef7376" stroke-width="2.6"/>
<circle cx="1111.7" cy="749.6" r="5.9" fill="#f8d4d4" stroke="#ef7376" stroke-width="2.6"/>
<circle cx="1267.9" cy="774.8" r="5.9" fill="#f8d4d4" stroke="#ef7376" stroke-width="2.6"/>
<circle cx="1294.9" cy="724.9" r="5.9" fill="#f8d4d4" stroke="#ef7376" stroke-width="2.6"/>
<circle cx="1355.2" cy="599" r="5.9" fill="#f8d4d4" stroke="#ef7376" stroke-width="2.6"/>
<circle cx="1213.9" cy="636.4" r="5.9" fill="#f8d4d4" stroke="#ef7376" stroke-width="2.6"/>
<circle cx="1258.8" cy="642" r="5.9" fill="#f8d4d4" stroke="#ef7376" stroke-width="2.6"/>
<circle cx="1201.7" cy="723.7" r="5.9" fill="#f8d4d4" stroke="#ef7376" stroke-width="2.6"/>
<circle cx="1103.7" cy="795.2" r="5.9" fill="#f8d4d4" stroke="#ef7376" stroke-width="2.6"/>
<circle cx="1075.5" cy="810.3" r="5.9" fill="#f8d4d4" stroke="#ef7376" stroke-width="2.6"/>
<circle cx="1079.7" cy="859" r="5.9" fill="#f8d4d4" stroke="#ef7376" stroke-width="2.6"/>
<circle cx="1090.5" cy="853.6" r="5.9" fill="#f8d4d4" stroke="#ef7376" stroke-width="2.6"/>
<circle cx="1121.8" cy="805.5" r="5.9" fill="#f8d4d4" stroke="#ef7376" stroke-width="2.6"/>
<circle cx="1157" cy="779" r="5.9" fill="#f8d4d4" stroke="#ef7376" stroke-width="2.6"/>
<circle cx="1335.8" cy="713.5" r="5.9" fill="#f8d4d4" stroke="#ef7376" stroke-width="2.6"/>
<circle cx="1352.8" cy="717" r="5.9" fill="#f8d4d4" stroke="#ef7376" stroke-width="2.6"/>
<circle cx="1423.9" cy="600.6" r="5.9" fill="#f8d4d4" stroke="#ef7376" stroke-width="2.6"/>
<circle cx="1354.1" cy="660.7" r="5.9" fill="#f8d4d4" stroke="#ef7376" stroke-width="2.6"/>
<circle cx="1266.1" cy="670.1" r="5.9" fill="#f8d4d4" stroke="#ef7376" stroke-width="2.6"/>
<circle cx="1143.1" cy="688.6" r="5.9" fill="#f8d4d4" stroke="#ef7376" stroke-width="2.6"/>
<circle cx="1109.7" cy="786.2" r="5.9" fill="#f8d4d4" stroke="#ef7376" stroke-width="2.6"/>
<circle cx="1068.2" cy="812.7" r="5.9" fill="#f8d4d4" stroke="#ef7376" stroke-width="2.6"/>
<circle cx="1085.1" cy="847.5" r="5.9" fill="#f8d4d4" stroke="#ef7376" stroke-width="2.6"/>
<circle cx="1080.3" cy="843.9" r="5.9" fill="#f8d4d4" stroke="#ef7376" stroke-width="2.6"/>
<circle cx="1167.4" cy="797.6" r="5.9" fill="#f8d4d4" stroke="#ef7376" stroke-width="2.6"/>
<circle cx="1212.5" cy="797" r="5.9" fill="#f8d4d4" stroke="#ef7376" stroke-width="2.6"/>
<circle cx="1284.7" cy="745.9" r="5.9" fill="#f8d4d4" stroke="#ef7376" stroke-width="2.6"/>
<circle cx="1420.6" cy="664.5" r="5.9" fill="#f8d4d4" stroke="#ef7376" stroke-width="2.6"/>
<circle cx="1400.3" cy="561.1" r="5.9" fill="#f8d4d4" stroke="#ef7376" stroke-width="2.6"/>
<circle cx="1314.4" cy="586.4" r="5.9" fill="#f8d4d4" stroke="#ef7376" stroke-width="2.6"/>
<circle cx="1341.3" cy="641.1" r="5.9" fill="#f8d4d4" stroke="#ef7376" stroke-width="2.6"/>
<circle cx="1146.5" cy="654.9" r="5.9" fill="#f8d4d4" stroke="#ef7376" stroke-width="2.6"/>
<circle cx="1100.7" cy="778.4" r="5.9" fill="#f8d4d4" stroke="#ef7376" stroke-width="2.6"/>
<circle cx="1046.6" cy="788.6" r="5.9" fill="#f8d4d4" stroke="#ef7376" stroke-width="2.6"/>
<circle cx="1050.2" cy="825.9" r="5.9" fill="#f8d4d4" stroke="#ef7376" stroke-width="2.6"/>
<circle cx="1049" cy="834.3" r="5.9" fill="#f8d4d4" stroke="#ef7376" stroke-width="2.6"/>
<circle cx="1049.6" cy="794.6" r="5.9" fill="#f8d4d4" stroke="#ef7376" stroke-width="2.6"/>
<circle cx="1100.1" cy="752.5" r="5.9" fill="#f8d4d4" stroke="#ef7376" stroke-width="2.6"/>
<circle cx="1314.8" cy="755.5" r="5.9" fill="#f8d4d4" stroke="#ef7376" stroke-width="2.6"/>
<circle cx="1322.5" cy="686.3" r="5.9" fill="#f8d4d4" stroke="#ef7376" stroke-width="2.6"/>
<circle cx="1344.3" cy="601.2" r="5.9" fill="#f8d4d4" stroke="#ef7376" stroke-width="2.6"/>
<circle cx="1376.8" cy="634.7" r="5.9" fill="#f8d4d4" stroke="#ef7376" stroke-width="2.6"/>
<circle cx="1377.9" cy="641.2" r="5.9" fill="#f8d4d4" stroke="#ef7376" stroke-width="2.6"/>
<circle cx="1152.4" cy="656.6" r="5.9" fill="#f8d4d4" stroke="#ef7376" stroke-width="2.6"/>
<circle cx="1087.5" cy="770" r="5.9" fill="#f8d4d4" stroke="#ef7376" stroke-width="2.6"/>
<circle cx="1204.1" cy="786.8" r="5.9" fill="#f8d4d4" stroke="#ef7376" stroke-width="2.6"/>
<circle cx="1028.6" cy="831.9" r="5.9" fill="#f8d4d4" stroke="#ef7376" stroke-width="2.6"/>
<circle cx="1125" cy="834.9" r="5.9" fill="#f8d4d4" stroke="#ef7376" stroke-width="2.6"/>
<circle cx="1141.6" cy="810.9" r="5.9" fill="#f8d4d4" stroke="#ef7376" stroke-width="2.6"/>
<circle cx="1111.7" cy="759.6" r="5.9" fill="#f8d4d4" stroke="#ef7376" stroke-width="2.6"/>
<circle cx="1205" cy="789" r="5.9" fill="#f8d4d4" stroke="#ef7376" stroke-width="2.6"/>
<circle cx="1305.3" cy="614.2" r="5.9" fill="#f8d4d4" stroke="#ef7376" stroke-width="2.6"/>
<circle cx="1410.9" cy="589.8" r="5.9" fill="#f8d4d4" stroke="#ef7376" stroke-width="2.6"/>
<circle cx="1342.2" cy="641.2" r="5.9" fill="#f8d4d4" stroke="#ef7376" stroke-width="2.6"/>
<circle cx="1263.5" cy="645.8" r="5.9" fill="#f8d4d4" stroke="#ef7376" stroke-width="2.6"/>
<circle cx="1225.1" cy="678.2" r="5.9" fill="#f8d4d4" stroke="#ef7376" stroke-width="2.6"/>
<circle cx="1157.5" cy="745.5" r="5.9" fill="#f8d4d4" stroke="#ef7376" stroke-width="2.6"/>
<circle cx="1080.9" cy="792.8" r="5.9" fill="#f8d4d4" stroke="#ef7376" stroke-width="2.6"/>
<circle cx="1119.4" cy="836.1" r="5.9" fill="#f8d4d4" stroke="#ef7376" stroke-width="2.6"/>
<circle cx="1015.3" cy="826.5" r="5.9" fill="#f8d4d4" stroke="#ef7376" stroke-width="2.6"/>
<circle cx="1130.8" cy="783.8" r="5.9" fill="#f8d4d4" stroke="#ef7376" stroke-width="2.6"/>
<circle cx="1296.7" cy="786.2" r="5.9" fill="#f8d4d4" stroke="#ef7376" stroke-width="2.6"/>
<circle cx="1275.1" cy="721.9" r="5.9" fill="#f8d4d4" stroke="#ef7376" stroke-width="2.6"/>
<circle cx="1248.4" cy="637.8" r="5.9" fill="#f8d4d4" stroke="#ef7376" stroke-width="2.6"/>
<circle cx="1479.6" cy="577.4" r="5.9" fill="#f8d4d4" stroke="#ef7376" stroke-width="2.6"/>
<circle cx="1423" cy="642" r="5.9" fill="#f8d4d4" stroke="#ef7376" stroke-width="2.6"/>
<circle cx="1354.5" cy="661" r="5.9" fill="#f8d4d4" stroke="#ef7376" stroke-width="2.6"/>
<circle cx="1264.9" cy="700.8" r="5.9" fill="#f8d4d4" stroke="#ef7376" stroke-width="2.6"/>
<circle cx="1110.9" cy="755.5" r="5.9" fill="#f8d4d4" stroke="#ef7376" stroke-width="2.6"/>
<circle cx="1074.3" cy="776.6" r="5.9" fill="#f8d4d4" stroke="#ef7376" stroke-width="2.6"/>
<circle cx="1053.2" cy="857.2" r="5.9" fill="#f8d4d4" stroke="#ef7376" stroke-width="2.6"/>
<circle cx="1076.1" cy="825.9" r="5.9" fill="#f8d4d4" stroke="#ef7376" stroke-width="2.6"/>
<circle cx="1143.4" cy="785.6" r="5.9" fill="#f8d4d4" stroke="#ef7376" stroke-width="2.6"/>
<circle cx="1205.9" cy="761.6" r="5.9" fill="#f8d4d4" stroke="#ef7376" stroke-width="2.6"/>
<circle cx="1270.3" cy="740.5" r="5.9" fill="#f8d4d4" stroke="#ef7376" stroke-width="2.6"/>
<circle cx="1347" cy="715" r="5.9" fill="#f8d4d4" stroke="#ef7376" stroke-width="2.6"/>
<circle cx="1379" cy="602.8" r="5.9" fill="#f8d4d4" stroke="#ef7376" stroke-width="2.6"/>
<circle cx="1371.6" cy="562.4" r="5.9" fill="#f8d4d4" stroke="#ef7376" stroke-width="2.6"/>
<circle cx="1294.3" cy="635.9" r="5.9" fill="#f8d4d4" stroke="#ef7376" stroke-width="2.6"/>
<circle cx="1214.7" cy="664.7" r="5.9" fill="#f8d4d4" stroke="#ef7376" stroke-width="2.6"/>
<circle cx="1146.4" cy="764" r="5.9" fill="#f8d4d4" stroke="#ef7376" stroke-width="2.6"/>
<circle cx="1056.2" cy="782.6" r="5.9" fill="#f8d4d4" stroke="#ef7376" stroke-width="2.6"/>
<circle cx="1062.2" cy="837.9" r="5.9" fill="#f8d4d4" stroke="#ef7376" stroke-width="2.6"/>
<circle cx="1080.3" cy="836.7" r="5.9" fill="#f8d4d4" stroke="#ef7376" stroke-width="2.6"/>
<circle cx="1113.9" cy="774.2" r="5.9" fill="#f8d4d4" stroke="#ef7376" stroke-width="2.6"/>
<circle cx="1157.2" cy="763.4" r="5.9" fill="#f8d4d4" stroke="#ef7376" stroke-width="2.6"/>
<circle cx="1212.9" cy="686.7" r="5.9" fill="#f8d4d4" stroke="#ef7376" stroke-width="2.6"/>
<circle cx="1250.4" cy="681.2" r="5.9" fill="#f8d4d4" stroke="#ef7376" stroke-width="2.6"/>
<circle cx="1375.7" cy="644" r="5.9" fill="#f8d4d4" stroke="#ef7376" stroke-width="2.6"/>
<circle cx="1498" cy="648.8" r="5.9" fill="#f8d4d4" stroke="#ef7376" stroke-width="2.6"/>
<circle cx="1434.7" cy="642.3" r="5.9" fill="#f8d4d4" stroke="#ef7376" stroke-width="2.6"/>
<circle cx="1248" cy="715.9" r="5.9" fill="#f8d4d4" stroke="#ef7376" stroke-width="2.6"/>
<circle cx="1071.8" cy="765.8" r="5.9" fill="#f8d4d4" stroke="#ef7376" stroke-width="2.6"/>
<circle cx="1015.3" cy="815.7" r="5.9" fill="#f8d4d4" stroke="#ef7376" stroke-width="2.6"/>
<circle cx="1053.8" cy="847.5" r="5.9" fill="#f8d4d4" stroke="#ef7376" stroke-width="2.6"/>
<circle cx="1010.5" cy="855.4" r="5.9" fill="#f8d4d4" stroke="#ef7376" stroke-width="2.6"/>
<circle cx="1158.4" cy="779" r="5.9" fill="#f8d4d4" stroke="#ef7376" stroke-width="2.6"/>
<circle cx="1181.9" cy="768.8" r="5.9" fill="#f8d4d4" stroke="#ef7376" stroke-width="2.6"/>
<circle cx="1239.6" cy="730.3" r="5.9" fill="#f8d4d4" stroke="#ef7376" stroke-width="2.6"/>
<circle cx="1307.3" cy="684.5" r="5.9" fill="#f8d4d4" stroke="#ef7376" stroke-width="2.6"/>
<circle cx="1479.6" cy="627.7" r="5.9" fill="#f8d4d4" stroke="#ef7376" stroke-width="2.6"/>
<circle cx="1439" cy="640.1" r="5.9" fill="#f8d4d4" stroke="#ef7376" stroke-width="2.6"/>
<circle cx="1355.2" cy="692.1" r="5.9" fill="#f8d4d4" stroke="#ef7376" stroke-width="2.6"/>
<circle cx="1203" cy="688.6" r="5.9" fill="#f8d4d4" stroke="#ef7376" stroke-width="2.6"/>
<circle cx="1083.3" cy="756.1" r="5.9" fill="#f8d4d4" stroke="#ef7376" stroke-width="2.6"/>
<circle cx="1079.2" cy="800.4" r="5.9" fill="#f8d4d4" stroke="#ef7376" stroke-width="2.6"/>
<line x1="975.1" y1="853.6" x2="1498.4" y2="573" stroke="#ef7376" stroke-width="2.6" />
<line x1="1059.4" y1="943.5" x2="1059.4" y2="934.5" stroke="#000" stroke-width="2.2" />
<line x1="1059.4" y1="502.8" x2="1059.4" y2="511.8" stroke="#000" stroke-width="2.2" />
<line x1="918" y1="855.4" x2="927" y2="855.4" stroke="#000" stroke-width="2.2" />
<line x1="1624.8" y1="855.4" x2="1615.8" y2="855.4" stroke="#000" stroke-width="2.2" />
<line x1="1200.7" y1="943.5" x2="1200.7" y2="934.5" stroke="#000" stroke-width="2.2" />
<line x1="1200.7" y1="502.8" x2="1200.7" y2="511.8" stroke="#000" stroke-width="2.2" />
<line x1="918" y1="767.2" x2="927" y2="767.2" stroke="#000" stroke-width="2.2" />
<line x1="1624.8" y1="767.2" x2="1615.8" y2="767.2" stroke="#000" stroke-width="2.2" />
<line x1="1342.1" y1="943.5" x2="1342.1" y2="934.5" stroke="#000" stroke-width="2.2" />
<line x1="1342.1" y1="502.8" x2="1342.1" y2="511.8" stroke="#000" stroke-width="2.2" />
<line x1="918" y1="679.1" x2="927" y2="679.1" stroke="#000" stroke-width="2.2" />
<line x1="1624.8" y1="679.1" x2="1615.8" y2="679.1" stroke="#000" stroke-width="2.2" />
<line x1="1483.4" y1="943.5" x2="1483.4" y2="934.5" stroke="#000" stroke-width="2.2" />
<line x1="1483.4" y1="502.8" x2="1483.4" y2="511.8" stroke="#000" stroke-width="2.2" />
<line x1="918" y1="590.9" x2="927" y2="590.9" stroke="#000" stroke-width="2.2" />
<line x1="1624.8" y1="590.9" x2="1615.8" y2="590.9" stroke="#000" stroke-width="2.2" />
<rect x="918" y="502.8" width="706.8" height="440.7" fill="none" stroke="#000" stroke-width="2.6"/>
<text x="918" y="979" font-size="27.3" text-anchor="middle" >0</text>
<text x="1059.4" y="979" font-size="27.3" text-anchor="middle" >50</text>
<text x="1200.7" y="979" font-size="27.3" text-anchor="middle" >100</text>
<text x="1342.1" y="979" font-size="27.3" text-anchor="middle" >150</text>
<text x="1483.4" y="979" font-size="27.3" text-anchor="middle" >200</text>
<text x="1624.8" y="979" font-size="27.3" text-anchor="middle" >250</text>
<text x="1272" y="1020.3" font-size="37" text-anchor="middle" >SSEBop ET (mm/month)</text>
<text x="933.5" y="555" font-size="40" text-anchor="start" font-weight="bold" >(c)</text>
<rect x="942" y="895" width="80" height="33" fill="#fff"/>
<text x="941.5" y="922.5" font-size="24.2" text-anchor="start" >1:1 line</text>
<text x="1310" y="846.5" font-size="28.3" text-anchor="start" >y = 0.86 x + 33.62</text>
<text x="1310" y="879" font-size="28.3">r<tspan font-size="18" dy="-10">2</tspan><tspan dy="10"> = 0.65</tspan></text>
<line x1="152" y1="1330.8" x2="1624.8" y2="1330.8" stroke="#d9d9d9" stroke-width="1.6" />
<line x1="152" y1="1260" x2="1624.8" y2="1260" stroke="#d9d9d9" stroke-width="1.6" />
<line x1="152" y1="1189.3" x2="1624.8" y2="1189.3" stroke="#d9d9d9" stroke-width="1.6" />
<line x1="152" y1="1118.5" x2="1624.8" y2="1118.5" stroke="#d9d9d9" stroke-width="1.6" />
<rect x="234.6" y="1322.7" width="19" height="78.8" fill="#46658f"/>
<rect x="255.8" y="1312.2" width="19" height="89.3" fill="#4cbea6"/>
<rect x="277" y="1334" width="19" height="67.5" fill="#ef7376"/>
<line x1="265.3" y1="1401.5" x2="265.3" y2="1391.5" stroke="#000" stroke-width="2.2" />
<rect x="347.9" y="1317.6" width="19" height="83.9" fill="#46658f"/>
<rect x="369.1" y="1298.4" width="19" height="103.1" fill="#4cbea6"/>
<rect x="390.3" y="1321.4" width="19" height="80.1" fill="#ef7376"/>
<line x1="378.6" y1="1401.5" x2="378.6" y2="1391.5" stroke="#000" stroke-width="2.2" />
<rect x="461.2" y="1281" width="19" height="120.5" fill="#46658f"/>
<rect x="482.4" y="1266.2" width="19" height="135.3" fill="#4cbea6"/>
<rect x="503.6" y="1291.1" width="19" height="110.4" fill="#ef7376"/>
<line x1="491.9" y1="1401.5" x2="491.9" y2="1391.5" stroke="#000" stroke-width="2.2" />
<rect x="574.5" y="1262" width="19" height="139.5" fill="#46658f"/>
<rect x="595.7" y="1234.6" width="19" height="166.9" fill="#4cbea6"/>
<rect x="616.9" y="1267.2" width="19" height="134.3" fill="#ef7376"/>
<line x1="605.2" y1="1401.5" x2="605.2" y2="1391.5" stroke="#000" stroke-width="2.2" />
<rect x="687.8" y="1225.9" width="19" height="175.6" fill="#46658f"/>
<rect x="709" y="1191.4" width="19" height="210.1" fill="#4cbea6"/>
<rect x="730.2" y="1225.9" width="19" height="175.6" fill="#ef7376"/>
<line x1="718.5" y1="1401.5" x2="718.5" y2="1391.5" stroke="#000" stroke-width="2.2" />
<rect x="801.1" y="1186.9" width="19" height="214.6" fill="#46658f"/>
<rect x="822.3" y="1184" width="19" height="217.5" fill="#4cbea6"/>
<rect x="843.5" y="1207.8" width="19" height="193.7" fill="#ef7376"/>
<line x1="831.8" y1="1401.5" x2="831.8" y2="1391.5" stroke="#000" stroke-width="2.2" />
<rect x="914.3" y="1120.8" width="19" height="280.7" fill="#46658f"/>
<rect x="935.5" y="1163.8" width="19" height="237.7" fill="#4cbea6"/>
<rect x="956.7" y="1161.4" width="19" height="240.1" fill="#ef7376"/>
<line x1="945" y1="1401.5" x2="945" y2="1391.5" stroke="#000" stroke-width="2.2" />
<rect x="1027.6" y="1140.8" width="19" height="260.7" fill="#46658f"/>
<rect x="1048.8" y="1179" width="19" height="222.5" fill="#4cbea6"/>
<rect x="1070" y="1186.5" width="19" height="215" fill="#ef7376"/>
<line x1="1058.3" y1="1401.5" x2="1058.3" y2="1391.5" stroke="#000" stroke-width="2.2" />
<rect x="1140.9" y="1171.6" width="19" height="229.9" fill="#46658f"/>
<rect x="1162.1" y="1210.9" width="19" height="190.6" fill="#4cbea6"/>
<rect x="1183.3" y="1207.8" width="19" height="193.7" fill="#ef7376"/>
<line x1="1171.6" y1="1401.5" x2="1171.6" y2="1391.5" stroke="#000" stroke-width="2.2" />
<rect x="1254.2" y="1194.2" width="19" height="207.3" fill="#46658f"/>
<rect x="1275.4" y="1240.5" width="19" height="161" fill="#4cbea6"/>
<rect x="1296.6" y="1258.2" width="19" height="143.3" fill="#ef7376"/>
<line x1="1284.9" y1="1401.5" x2="1284.9" y2="1391.5" stroke="#000" stroke-width="2.2" />
<rect x="1367.5" y="1261" width="19" height="140.5" fill="#46658f"/>
<rect x="1388.7" y="1288.2" width="19" height="113.3" fill="#4cbea6"/>
<rect x="1409.9" y="1304.2" width="19" height="97.3" fill="#ef7376"/>
<line x1="1398.2" y1="1401.5" x2="1398.2" y2="1391.5" stroke="#000" stroke-width="2.2" />
<rect x="1480.8" y="1280.7" width="19" height="120.8" fill="#46658f"/>
<rect x="1502" y="1310.2" width="19" height="91.3" fill="#4cbea6"/>
<rect x="1523.2" y="1330.8" width="19" height="70.7" fill="#ef7376"/>
<line x1="1511.5" y1="1401.5" x2="1511.5" y2="1391.5" stroke="#000" stroke-width="2.2" />
<rect x="152" y="1047.8" width="1472.8" height="353.7" fill="none" stroke="#000" stroke-width="2.6"/>
<text x="140.5" y="1412.9" font-size="32" text-anchor="end" >0</text>
<text x="140.5" y="1342.2" font-size="32" text-anchor="end" >50</text>
<text x="140.5" y="1271.4" font-size="32" text-anchor="end" >100</text>
<text x="140.5" y="1200.7" font-size="32" text-anchor="end" >150</text>
<text x="140.5" y="1129.9" font-size="32" text-anchor="end" >200</text>
<text x="140.5" y="1059.2" font-size="32" text-anchor="end" >250</text>
<text x="265.3" y="1435.6" font-size="27" text-anchor="middle" >1</text>
<text x="378.6" y="1435.6" font-size="27" text-anchor="middle" >2</text>
<text x="491.9" y="1435.6" font-size="27" text-anchor="middle" >3</text>
<text x="605.2" y="1435.6" font-size="27" text-anchor="middle" >4</text>
<text x="718.5" y="1435.6" font-size="27" text-anchor="middle" >5</text>
<text x="831.8" y="1435.6" font-size="27" text-anchor="middle" >6</text>
<text x="945" y="1435.6" font-size="27" text-anchor="middle" >7</text>
<text x="1058.3" y="1435.6" font-size="27" text-anchor="middle" >8</text>
<text x="1171.6" y="1435.6" font-size="27" text-anchor="middle" >9</text>
<text x="1284.9" y="1435.6" font-size="27" text-anchor="middle" >10</text>
<text x="1398.2" y="1435.6" font-size="27" text-anchor="middle" >11</text>
<text x="1511.5" y="1435.6" font-size="27" text-anchor="middle" >12</text>
<text x="888.2" y="1477" font-size="37" text-anchor="middle" >Month</text>
<text x="0" y="0" font-size="37" text-anchor="middle" transform="translate(65,1224) rotate(-90)">ET (mm/month)</text>
<text x="167" y="1100.7" font-size="40" text-anchor="start" font-weight="bold" >(d)</text>
<text x="697" y="1087.6" font-size="28.6">RMSE<tspan font-size="16.9" dy="8.5">MOD16A2 &#8722; ET</tspan><tspan font-size="10" dy="4">c</tspan><tspan dy="-12.5" font-size="28.6"> = 21.4 mm/month</tspan></text>
<text x="1182" y="1087.6" font-size="28.6">RMSE<tspan font-size="16.9" dy="8.5">SSEBop &#8722; ET</tspan><tspan font-size="10" dy="4">c</tspan><tspan dy="-12.5" font-size="28.6"> = 24.2 mm/month</tspan></text>
<rect x="182" y="1122" width="220" height="134" fill="#fff"/>
<rect x="188" y="1127.2" width="39.8" height="39" fill="#46658f"/>
<text x="255.5" y="1153.8" font-size="26.5">FAO-56 ET<tspan font-size="16.5" dy="6">c</tspan></text>
<rect x="188" y="1169.8" width="39.8" height="39" fill="#4cbea6"/>
<text x="255.5" y="1197.1" font-size="26.5" text-anchor="start" >MOD16A2</text>
<rect x="188" y="1212.4" width="39.8" height="39" fill="#ef7376"/>
<text x="255.5" y="1240.4" font-size="26.5" text-anchor="start" >SSEBop</text>
<line x1="152.5" y1="1787.7" x2="1624.8" y2="1787.7" stroke="#d9d9d9" stroke-width="1.6" />
<line x1="152.5" y1="1717" x2="1624.8" y2="1717" stroke="#d9d9d9" stroke-width="1.6" />
<line x1="152.5" y1="1646.2" x2="1624.8" y2="1646.2" stroke="#d9d9d9" stroke-width="1.6" />
<line x1="152.5" y1="1575.5" x2="1624.8" y2="1575.5" stroke="#d9d9d9" stroke-width="1.6" />
<rect x="222.6" y="1591.6" width="17" height="266.8" fill="#46658f"/>
<rect x="242.2" y="1612.3" width="17" height="246.1" fill="#4cbea6"/>
<rect x="261.8" y="1653.5" width="17" height="204.9" fill="#ef7376"/>
<line x1="250.7" y1="1858.4" x2="250.7" y2="1848.4" stroke="#000" stroke-width="2.2" />
<rect x="320.7" y="1587.9" width="17" height="270.5" fill="#46658f"/>
<rect x="340.3" y="1613.5" width="17" height="244.9" fill="#4cbea6"/>
<rect x="359.9" y="1634.9" width="17" height="223.5" fill="#ef7376"/>
<line x1="348.8" y1="1858.4" x2="348.8" y2="1848.4" stroke="#000" stroke-width="2.2" />
<rect x="418.9" y="1592" width="17" height="266.4" fill="#46658f"/>
<rect x="438.5" y="1624.5" width="17" height="233.9" fill="#4cbea6"/>
<rect x="458.1" y="1665.3" width="17" height="193.1" fill="#ef7376"/>
<line x1="447" y1="1858.4" x2="447" y2="1848.4" stroke="#000" stroke-width="2.2" />
<rect x="517" y="1587.9" width="17" height="270.5" fill="#46658f"/>
<rect x="536.6" y="1615.1" width="17" height="243.3" fill="#4cbea6"/>
<rect x="556.2" y="1647.1" width="17" height="211.3" fill="#ef7376"/>
<line x1="545.1" y1="1858.4" x2="545.1" y2="1848.4" stroke="#000" stroke-width="2.2" />
<rect x="615.2" y="1616.4" width="17" height="242" fill="#46658f"/>
<rect x="634.8" y="1615.1" width="17" height="243.3" fill="#4cbea6"/>
<rect x="654.4" y="1642.2" width="17" height="216.2" fill="#ef7376"/>
<line x1="643.3" y1="1858.4" x2="643.3" y2="1848.4" stroke="#000" stroke-width="2.2" />
<rect x="713.3" y="1618.5" width="17" height="239.9" fill="#46658f"/>
<rect x="732.9" y="1620.3" width="17" height="238.1" fill="#4cbea6"/>
<rect x="752.5" y="1663.6" width="17" height="194.8" fill="#ef7376"/>
<line x1="741.4" y1="1858.4" x2="741.4" y2="1848.4" stroke="#000" stroke-width="2.2" />
<rect x="811.5" y="1620.3" width="17" height="238.1" fill="#46658f"/>
<rect x="831.1" y="1615.7" width="17" height="242.7" fill="#4cbea6"/>
<rect x="850.7" y="1639.7" width="17" height="218.7" fill="#ef7376"/>
<line x1="839.6" y1="1858.4" x2="839.6" y2="1848.4" stroke="#000" stroke-width="2.2" />
<rect x="909.6" y="1592.8" width="17" height="265.6" fill="#46658f"/>
<rect x="929.2" y="1616.9" width="17" height="241.5" fill="#4cbea6"/>
<rect x="948.8" y="1636.7" width="17" height="221.7" fill="#ef7376"/>
<line x1="937.7" y1="1858.4" x2="937.7" y2="1848.4" stroke="#000" stroke-width="2.2" />
<rect x="1007.8" y="1597.4" width="17" height="261" fill="#46658f"/>
<rect x="1027.4" y="1624.5" width="17" height="233.9" fill="#4cbea6"/>
<rect x="1047" y="1645" width="17" height="213.4" fill="#ef7376"/>
<line x1="1035.9" y1="1858.4" x2="1035.9" y2="1848.4" stroke="#000" stroke-width="2.2" />
<rect x="1105.9" y="1596.6" width="17" height="261.8" fill="#46658f"/>
<rect x="1125.5" y="1604.7" width="17" height="253.7" fill="#4cbea6"/>
<rect x="1145.1" y="1644.6" width="17" height="213.8" fill="#ef7376"/>
<line x1="1134" y1="1858.4" x2="1134" y2="1848.4" stroke="#000" stroke-width="2.2" />
<rect x="1204.1" y="1602.6" width="17" height="255.8" fill="#46658f"/>
<rect x="1223.7" y="1605" width="17" height="253.4" fill="#4cbea6"/>
<rect x="1243.3" y="1624.8" width="17" height="233.6" fill="#ef7376"/>
<line x1="1232.2" y1="1858.4" x2="1232.2" y2="1848.4" stroke="#000" stroke-width="2.2" />
<rect x="1302.2" y="1597.1" width="17" height="261.3" fill="#46658f"/>
<rect x="1321.8" y="1634.9" width="17" height="223.5" fill="#4cbea6"/>
<rect x="1341.4" y="1635.8" width="17" height="222.6" fill="#ef7376"/>
<line x1="1330.3" y1="1858.4" x2="1330.3" y2="1848.4" stroke="#000" stroke-width="2.2" />
<rect x="1400.4" y="1610.5" width="17" height="247.9" fill="#46658f"/>
<rect x="1420" y="1602" width="17" height="256.4" fill="#4cbea6"/>
<rect x="1439.6" y="1639.2" width="17" height="219.2" fill="#ef7376"/>
<line x1="1428.5" y1="1858.4" x2="1428.5" y2="1848.4" stroke="#000" stroke-width="2.2" />
<rect x="1498.5" y="1618.1" width="17" height="240.3" fill="#46658f"/>
<rect x="1518.1" y="1624.5" width="17" height="233.9" fill="#4cbea6"/>
<rect x="1537.7" y="1634.2" width="17" height="224.2" fill="#ef7376"/>
<line x1="1526.6" y1="1858.4" x2="1526.6" y2="1848.4" stroke="#000" stroke-width="2.2" />
<rect x="152.5" y="1504.8" width="1472.3" height="353.6" fill="none" stroke="#000" stroke-width="2.6"/>
<text x="140.2" y="1869.8" font-size="32" text-anchor="end" >0</text>
<text x="140.2" y="1799.1" font-size="32" text-anchor="end" >400</text>
<text x="140.2" y="1728.4" font-size="32" text-anchor="end" >800</text>
<text x="140.2" y="1657.6" font-size="32" text-anchor="end" >1200</text>
<text x="140.2" y="1586.9" font-size="32" text-anchor="end" >1600</text>
<text x="140.2" y="1516.2" font-size="32" text-anchor="end" >2000</text>
<text x="250.7" y="1893" font-size="28.3" text-anchor="middle" >2006</text>
<text x="348.8" y="1893" font-size="28.3" text-anchor="middle" >2007</text>
<text x="447" y="1893" font-size="28.3" text-anchor="middle" >2008</text>
<text x="545.1" y="1893" font-size="28.3" text-anchor="middle" >2009</text>
<text x="643.3" y="1893" font-size="28.3" text-anchor="middle" >2010</text>
<text x="741.4" y="1893" font-size="28.3" text-anchor="middle" >2011</text>
<text x="839.6" y="1893" font-size="28.3" text-anchor="middle" >2012</text>
<text x="937.7" y="1893" font-size="28.3" text-anchor="middle" >2013</text>
<text x="1035.9" y="1893" font-size="28.3" text-anchor="middle" >2014</text>
<text x="1134" y="1893" font-size="28.3" text-anchor="middle" >2015</text>
<text x="1232.2" y="1893" font-size="28.3" text-anchor="middle" >2016</text>
<text x="1330.3" y="1893" font-size="28.3" text-anchor="middle" >2017</text>
<text x="1428.5" y="1893" font-size="28.3" text-anchor="middle" >2018</text>
<text x="1526.6" y="1893" font-size="28.3" text-anchor="middle" >2019</text>
<text x="888.8" y="1934.5" font-size="37" text-anchor="middle" >Date</text>
<text x="0" y="0" font-size="37" text-anchor="middle" transform="translate(48,1682.5) rotate(-90)">ET (mm/year)</text>
<text x="166.5" y="1556.6" font-size="40" text-anchor="start" font-weight="bold" >(e)</text>
<text x="697" y="1546" font-size="28.6">RMSE<tspan font-size="16.9" dy="8.5">MOD16A2 &#8722; ET</tspan><tspan font-size="10" dy="4">c</tspan><tspan dy="-12.5" font-size="28.6"> = 114.9 mm/year</tspan></text>
<text x="1183" y="1546" font-size="28.6">RMSE<tspan font-size="16.9" dy="8.5">SSEBop &#8722; ET</tspan><tspan font-size="10" dy="4">c</tspan><tspan dy="-12.5" font-size="28.6"> = 250.3 mm/year</tspan></text>
</svg></body></html>
